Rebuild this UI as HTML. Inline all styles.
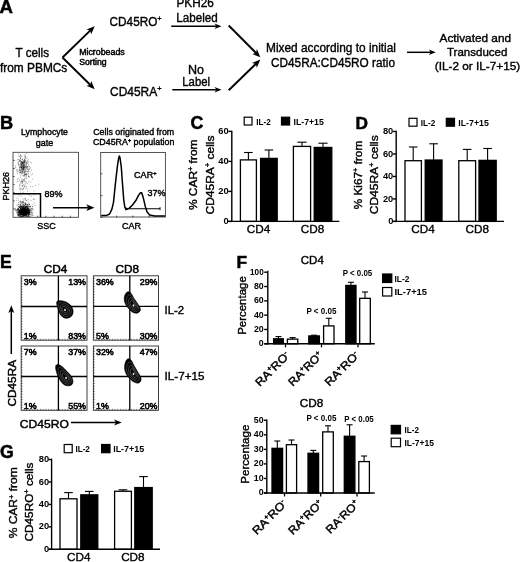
<!DOCTYPE html>
<html lang="en"><head><meta charset="utf-8"><title>Figure</title>
<style>
html,body{margin:0;padding:0;background:#fff;}
body{width:520px;height:562px;overflow:hidden;}
svg{display:block;filter:blur(0.45px);}
svg text{font-family:"Liberation Sans",sans-serif;fill:#000;}
</style></head><body>
<svg width="520" height="562" viewBox="0 0 520 562">
<rect width="520" height="562" fill="#fff"/>
<text x="-0.6" y="12.8" font-size="18.6" text-anchor="start" font-weight="bold" stroke="#000" stroke-width="0.5">A</text>
<text x="32.3" y="57" font-size="12.5" text-anchor="middle" textLength="33.5" lengthAdjust="spacingAndGlyphs" stroke="#000" stroke-width="0.38">T cells</text>
<text x="0" y="71.5" font-size="12.5" text-anchor="start" textLength="67.3" lengthAdjust="spacingAndGlyphs" stroke="#000" stroke-width="0.38">from PBMCs</text>
<line x1="62.5" y1="57.5" x2="90.4" y2="30.38" stroke="#000" stroke-width="1.9" />
<polygon points="94.70,26.20 91.19,34.35 90.25,30.52 86.45,29.48" fill="#000"/>
<line x1="62.5" y1="57.5" x2="90.42" y2="84.99" stroke="#000" stroke-width="1.9" />
<polygon points="94.70,89.20 86.47,85.87 90.28,84.85 91.24,81.02" fill="#000"/>
<text x="79.2" y="54.7" font-size="8.2" text-anchor="start" textLength="45.5" lengthAdjust="spacingAndGlyphs" stroke="#000" stroke-width="0.45">Microbeads</text>
<text x="79.2" y="65.1" font-size="8.2" text-anchor="start" textLength="27.5" lengthAdjust="spacingAndGlyphs" stroke="#000" stroke-width="0.45">Sorting</text>
<text x="109.6" y="25.8" font-size="12.5" text-anchor="start" textLength="52" lengthAdjust="spacingAndGlyphs" stroke="#000" stroke-width="0.38">CD45RO<tspan dy="-4.5" font-size="7.75">+</tspan></text>
<text x="110" y="95.9" font-size="12.5" text-anchor="start" textLength="51.5" lengthAdjust="spacingAndGlyphs" stroke="#000" stroke-width="0.38">CD45RA<tspan dy="-4.5" font-size="7.75">+</tspan></text>
<text x="176.5" y="7.3" font-size="12.5" text-anchor="start" textLength="37.2" lengthAdjust="spacingAndGlyphs" stroke="#000" stroke-width="0.38">PKH26</text>
<text x="176.3" y="22.3" font-size="12.5" text-anchor="start" textLength="41.5" lengthAdjust="spacingAndGlyphs" stroke="#000" stroke-width="0.38">Labeled</text>
<line x1="171.2" y1="26.2" x2="216.7" y2="26.2" stroke="#000" stroke-width="1.5" />
<polygon points="221.50,26.20 214.50,29.00 216.50,26.20 214.50,23.40" fill="#000"/>
<text x="196" y="73.5" font-size="12.5" text-anchor="middle" stroke="#000" stroke-width="0.38">No</text>
<text x="196.2" y="86.3" font-size="12.5" text-anchor="middle" textLength="27.8" lengthAdjust="spacingAndGlyphs" stroke="#000" stroke-width="0.38">Label</text>
<line x1="172.3" y1="89.7" x2="216.7" y2="89.7" stroke="#000" stroke-width="1.5" />
<polygon points="221.50,89.70 214.50,92.50 216.50,89.70 214.50,86.90" fill="#000"/>
<line x1="228.7" y1="25.5" x2="256.07" y2="53.04" stroke="#000" stroke-width="1.9" />
<polygon points="260.30,57.30 252.11,53.88 255.93,52.90 256.93,49.09" fill="#000"/>
<line x1="228.7" y1="90.3" x2="256.0" y2="63.78" stroke="#000" stroke-width="1.9" />
<polygon points="260.30,59.60 256.79,67.75 255.85,63.92 252.05,62.88" fill="#000"/>
<text x="266" y="51.9" font-size="12.5" text-anchor="start" textLength="130" lengthAdjust="spacingAndGlyphs" stroke="#000" stroke-width="0.38">Mixed according to initial</text>
<text x="271" y="66.5" font-size="12.5" text-anchor="start" textLength="124" lengthAdjust="spacingAndGlyphs" stroke="#000" stroke-width="0.38">CD45RA:CD45RO ratio</text>
<line x1="407" y1="52.3" x2="431.0" y2="52.3" stroke="#000" stroke-width="1.5" />
<polygon points="435.80,52.30 428.80,55.10 430.80,52.30 428.80,49.50" fill="#000"/>
<text x="475.3" y="41.7" font-size="11.8" text-anchor="middle" textLength="71.5" lengthAdjust="spacingAndGlyphs" stroke="#000" stroke-width="0.38">Activated and</text>
<text x="477.2" y="56" font-size="11.8" text-anchor="middle" textLength="60.5" lengthAdjust="spacingAndGlyphs" stroke="#000" stroke-width="0.38">Transduced</text>
<text x="477.5" y="69.8" font-size="11.8" text-anchor="middle" textLength="85.5" lengthAdjust="spacingAndGlyphs" stroke="#000" stroke-width="0.38">(IL-2 or IL-7+15)</text>
<text x="0" y="128.5" font-size="18.2" text-anchor="start" font-weight="bold" stroke="#000" stroke-width="0.5">B</text>
<text x="44.5" y="135" font-size="9" text-anchor="middle" textLength="47" lengthAdjust="spacingAndGlyphs" stroke="#000" stroke-width="0.4">Lymphocyte</text>
<text x="44.5" y="145.5" font-size="9" text-anchor="middle" textLength="17.5" lengthAdjust="spacingAndGlyphs" stroke="#000" stroke-width="0.4">gate</text>
<path d="M22.7 213.2h.9M22.8 210.9h.9M20.7 211.2h.9M26.8 213.0h.9M26.6 212.5h.9M24.7 212.3h.9M18.5 214.2h.9M25.0 213.2h.9M18.4 206.9h.9M20.8 210.5h.9M24.4 211.7h.9M25.1 210.0h.9M24.4 212.9h.9M21.5 216.6h.9M25.2 215.2h.9M21.6 209.7h.9M22.5 211.5h.9M25.4 212.5h.9M22.2 209.1h.9M21.9 215.2h.9M21.1 212.5h.9M24.8 207.6h.9M23.6 215.5h.9M17.5 210.9h.9M23.2 209.5h.9M25.0 211.6h.9M19.1 214.1h.9M25.5 214.4h.9M27.8 212.8h.9M23.9 208.2h.9M25.3 210.1h.9M22.1 208.3h.9M20.6 210.3h.9M27.4 206.1h.9M19.1 212.5h.9M27.8 213.4h.9M17.8 204.7h.9M24.6 209.7h.9M20.1 214.5h.9M26.8 212.2h.9M24.2 213.0h.9M28.3 213.5h.9M25.1 213.3h.9M18.8 215.4h.9M26.4 213.3h.9M17.6 210.0h.9M26.0 206.7h.9M22.9 214.7h.9M19.6 216.3h.9M25.2 211.4h.9M24.5 213.6h.9M23.9 215.0h.9M21.5 210.6h.9M26.6 211.9h.9M20.9 214.5h.9M27.9 210.6h.9M19.4 211.4h.9M23.1 211.0h.9M27.7 208.9h.9M27.3 208.2h.9M21.1 213.6h.9M26.9 214.2h.9M24.5 212.2h.9M24.0 213.4h.9M23.0 212.6h.9M25.2 211.8h.9M25.8 213.4h.9M29.5 212.7h.9M22.2 210.8h.9M23.5 214.4h.9M22.5 212.9h.9M29.0 204.6h.9M20.1 212.5h.9M24.7 212.5h.9M22.2 213.6h.9M24.3 210.3h.9M30.8 212.8h.9M21.8 211.5h.9M22.8 211.6h.9M15.3 210.4h.9M26.5 208.5h.9M23.3 214.5h.9M26.1 216.0h.9M18.4 210.8h.9M22.5 213.5h.9M26.8 204.3h.9M26.8 207.7h.9M25.5 207.6h.9M24.0 215.1h.9M23.1 212.3h.9M25.9 212.2h.9M23.2 216.1h.9M26.6 211.0h.9M31.7 208.6h.9M26.2 211.1h.9M23.9 213.8h.9M24.2 213.6h.9M18.9 207.6h.9M25.3 209.1h.9M20.4 207.7h.9M27.3 213.9h.9M27.9 209.2h.9M23.5 208.6h.9M25.8 216.3h.9M20.8 216.2h.9M26.5 211.3h.9M17.6 215.7h.9M23.2 210.1h.9M24.7 212.9h.9M28.0 208.9h.9M26.9 216.0h.9M27.9 211.3h.9M21.3 214.7h.9M23.8 212.1h.9M27.8 211.1h.9M16.6 210.7h.9M17.9 214.1h.9M24.5 210.1h.9M23.5 214.1h.9M23.7 215.5h.9M23.3 214.7h.9M28.0 216.3h.9M21.5 214.3h.9M17.9 208.8h.9M17.6 214.8h.9M19.8 211.8h.9M22.9 211.7h.9M21.7 212.5h.9M28.9 211.9h.9M25.1 214.6h.9M22.9 208.3h.9M21.8 214.8h.9M18.6 210.1h.9M26.5 214.0h.9M23.5 214.1h.9M24.0 208.5h.9M18.8 210.0h.9M26.3 210.2h.9M20.8 209.6h.9M18.9 211.5h.9M20.0 212.8h.9M16.4 212.7h.9M21.6 206.4h.9M25.7 211.0h.9M16.8 209.3h.9M24.4 210.5h.9M25.8 213.9h.9M25.5 212.7h.9M27.5 213.6h.9M24.9 206.0h.9M26.2 215.5h.9M22.6 210.5h.9M29.3 206.9h.9M20.7 213.7h.9M29.2 211.5h.9M25.2 214.3h.9M20.8 211.6h.9M24.4 214.1h.9M23.4 211.3h.9M20.5 210.8h.9M26.2 212.1h.9M20.9 209.4h.9M31.5 215.0h.9M25.4 204.5h.9M25.4 213.1h.9M28.6 213.0h.9M23.3 213.3h.9M17.7 214.7h.9M24.5 209.8h.9M19.3 209.9h.9M24.4 212.3h.9M22.3 209.1h.9M29.9 214.7h.9M19.9 208.0h.9M28.6 214.6h.9M29.0 214.1h.9M20.9 212.5h.9M17.0 209.7h.9M23.3 213.3h.9M21.3 211.5h.9M24.9 212.9h.9M25.4 212.4h.9M22.5 214.0h.9M23.6 209.5h.9M21.6 211.8h.9M23.2 212.2h.9M23.5 212.3h.9M23.1 208.3h.9M24.8 214.8h.9M24.8 211.3h.9M24.8 209.1h.9M17.8 212.0h.9M20.7 213.9h.9M20.2 204.4h.9M20.4 216.2h.9M22.4 208.0h.9M21.2 213.3h.9M25.0 212.3h.9M28.0 213.8h.9M23.4 213.5h.9M28.5 214.5h.9M26.6 208.8h.9M23.1 213.8h.9M22.6 214.8h.9M25.3 214.3h.9M27.2 211.2h.9M22.5 214.2h.9M26.4 211.8h.9M20.0 212.3h.9M24.6 215.0h.9M25.8 211.9h.9M26.1 213.3h.9M24.1 212.0h.9M22.8 213.7h.9M20.3 210.0h.9M23.5 207.7h.9M22.2 206.2h.9M21.5 213.4h.9M25.2 211.6h.9M22.8 207.8h.9M29.0 213.2h.9M26.8 209.3h.9M22.9 206.7h.9M25.8 214.4h.9M17.8 211.7h.9M25.4 206.9h.9M18.0 208.8h.9M21.6 207.9h.9M23.6 212.5h.9M25.4 213.8h.9M28.0 215.1h.9M19.6 210.4h.9M20.3 208.8h.9M23.3 211.8h.9M25.0 207.4h.9M19.8 211.7h.9M22.9 210.9h.9M23.3 209.7h.9M25.6 212.8h.9M23.2 209.9h.9M23.0 204.2h.9M20.6 211.9h.9M19.0 212.4h.9M23.9 207.9h.9M22.7 210.9h.9M24.9 213.5h.9M23.4 209.4h.9M23.1 211.6h.9M25.7 212.6h.9M21.3 208.0h.9M22.4 209.7h.9M20.2 211.5h.9M22.0 212.1h.9M25.1 210.6h.9M30.5 210.9h.9M26.8 212.1h.9M26.8 205.1h.9M21.2 212.5h.9M24.5 215.4h.9M25.8 214.5h.9M25.0 211.4h.9M25.0 208.8h.9M27.0 209.0h.9M22.8 211.9h.9M27.0 211.9h.9M21.1 212.5h.9M25.2 213.8h.9M21.2 216.7h.9M28.5 211.9h.9M24.3 210.6h.9M27.7 209.8h.9M25.5 210.5h.9M21.4 213.8h.9M27.5 211.8h.9M21.5 214.1h.9M23.4 212.7h.9M28.1 215.0h.9M23.5 214.0h.9M21.6 211.7h.9M27.6 208.4h.9M19.0 207.3h.9M27.0 210.5h.9M23.3 210.9h.9M23.1 208.8h.9M23.6 207.8h.9M23.3 212.7h.9M24.9 211.2h.9M20.8 212.2h.9M22.0 216.2h.9M25.8 211.5h.9M22.1 209.8h.9M20.7 210.8h.9M24.4 213.2h.9M21.4 211.8h.9M31.9 206.6h.9M21.9 212.3h.9M24.0 212.9h.9M22.8 212.8h.9M23.7 214.0h.9M17.8 209.3h.9M23.5 208.9h.9M20.4 213.6h.9M21.6 213.6h.9M25.7 212.7h.9M25.0 211.5h.9M19.3 211.7h.9M24.9 210.3h.9M23.2 213.9h.9M20.9 213.6h.9M29.1 210.2h.9M23.9 211.4h.9M28.1 212.7h.9M26.2 209.9h.9M23.5 211.8h.9M18.2 215.8h.9M26.2 206.9h.9M25.7 211.4h.9M24.8 212.8h.9M19.0 211.2h.9M28.0 210.2h.9M20.4 208.0h.9M19.8 212.7h.9M28.6 213.0h.9M21.9 209.9h.9M25.1 213.3h.9M20.5 208.5h.9M24.4 212.5h.9M19.6 211.2h.9M21.9 213.1h.9M23.1 211.6h.9M22.4 214.7h.9M27.7 210.8h.9M26.0 209.7h.9M23.7 213.9h.9M28.0 210.7h.9M23.3 212.3h.9M19.0 211.8h.9M21.5 212.8h.9M20.1 206.3h.9M23.6 212.5h.9M21.9 214.3h.9M22.7 210.1h.9M24.9 207.4h.9M21.5 211.7h.9M26.0 211.3h.9M24.4 210.0h.9M24.4 216.5h.9M21.6 211.8h.9M24.0 214.7h.9M19.8 205.9h.9M25.3 214.0h.9M24.1 212.5h.9M26.3 212.8h.9M28.5 208.3h.9M22.4 202.2h.9M25.9 210.8h.9M23.5 211.1h.9M22.0 209.5h.9M21.6 213.6h.9M23.6 212.0h.9M23.0 214.4h.9M25.0 211.4h.9M25.5 211.4h.9M20.0 215.9h.9M24.9 209.1h.9M26.7 212.8h.9M18.8 216.3h.9M24.5 214.3h.9M24.1 211.4h.9M18.9 214.5h.9M23.6 211.0h.9M24.6 212.0h.9M25.5 210.8h.9M23.4 205.8h.9M22.2 213.7h.9M27.5 210.8h.9M23.1 216.2h.9M22.5 213.9h.9M28.5 211.9h.9M27.2 209.8h.9M24.1 211.6h.9M23.8 215.0h.9M30.7 209.9h.9M21.8 213.2h.9M20.3 213.2h.9M25.2 211.0h.9M25.1 207.5h.9M25.8 207.5h.9M21.4 210.2h.9M22.3 214.2h.9M23.7 210.7h.9M25.1 216.2h.9M23.5 212.8h.9M27.2 212.5h.9M30.1 206.2h.9M23.4 213.0h.9M26.4 213.7h.9M22.7 208.8h.9M23.8 214.7h.9M20.2 208.9h.9M23.4 206.4h.9M22.7 210.6h.9M24.9 209.8h.9M20.9 210.7h.9M23.4 209.9h.9M23.5 213.9h.9M27.1 216.6h.9M21.1 210.6h.9M21.3 211.7h.9M25.1 208.0h.9M24.9 211.7h.9M18.0 212.6h.9M27.1 206.6h.9M25.9 212.4h.9M24.9 213.0h.9M27.4 211.2h.9M26.1 210.7h.9M25.7 209.5h.9M23.2 216.6h.9M24.8 211.4h.9" stroke="#000" stroke-width="0.9" fill="none" opacity="0.85"/>
<path d="M19.2 206.3h.9M24.8 213.3h.9M25.8 211.6h.9M23.8 214.9h.9M22.4 207.3h.9M27.7 209.8h.9M22.8 207.2h.9M22.9 212.0h.9M25.5 204.7h.9M25.8 210.2h.9M19.8 212.6h.9M22.8 208.2h.9M27.3 214.8h.9M21.1 211.3h.9M21.9 214.3h.9M21.3 212.7h.9M33.3 199.3h.9M22.2 211.5h.9M23.6 206.8h.9M33.0 209.8h.9M17.1 212.9h.9M16.8 214.1h.9M21.6 210.1h.9M29.3 210.0h.9M18.2 202.7h.9M29.0 212.5h.9M20.6 212.9h.9M26.1 212.1h.9M14.5 208.3h.9M27.8 212.4h.9M27.7 199.7h.9M24.7 211.5h.9M34.7 205.7h.9M22.6 209.6h.9M27.7 207.7h.9M28.8 206.3h.9M25.1 207.4h.9M24.7 206.7h.9M17.3 213.9h.9M25.3 207.3h.9M24.8 213.5h.9M19.9 209.1h.9M26.3 211.6h.9M22.6 201.1h.9M29.2 210.8h.9M24.1 208.4h.9M25.1 207.8h.9M19.7 206.5h.9M21.5 207.1h.9M19.1 212.0h.9M18.5 212.1h.9M19.7 210.9h.9M29.8 210.3h.9M20.9 209.7h.9M24.6 202.6h.9M21.4 210.2h.9M22.0 209.8h.9M27.1 212.6h.9M27.8 211.9h.9M22.8 209.4h.9M22.9 208.2h.9M23.2 202.6h.9M22.6 209.4h.9M19.9 209.4h.9M26.2 208.8h.9M32.7 199.1h.9M23.1 202.2h.9M26.2 208.3h.9M26.3 200.5h.9M27.6 211.0h.9M24.1 207.1h.9M26.7 207.6h.9M24.9 207.5h.9M14.6 209.4h.9M24.8 212.5h.9M20.3 209.4h.9M26.6 210.1h.9M20.2 201.8h.9M27.6 215.6h.9M27.9 212.8h.9M21.4 206.6h.9M27.7 205.9h.9M16.4 205.5h.9M21.1 206.6h.9M25.0 206.5h.9M29.5 209.2h.9M19.4 214.7h.9M21.6 210.4h.9M23.9 208.2h.9M25.4 206.7h.9M16.3 200.7h.9M18.7 206.5h.9M23.9 209.7h.9M26.3 210.0h.9M20.7 206.7h.9M15.1 208.8h.9M26.0 211.6h.9M23.5 208.8h.9M27.9 209.6h.9M27.1 211.8h.9M24.9 214.7h.9M21.6 208.1h.9M20.6 206.3h.9M30.5 216.5h.9M24.1 211.8h.9M28.9 212.7h.9M29.1 204.4h.9M21.3 211.3h.9M30.0 209.9h.9M20.4 208.1h.9M21.2 206.1h.9M30.3 207.0h.9M29.0 210.8h.9M21.4 211.1h.9M30.8 212.0h.9M29.3 209.9h.9M26.2 208.7h.9M25.8 214.7h.9M18.0 209.2h.9M25.0 207.2h.9M22.7 212.6h.9M32.4 212.0h.9M25.4 203.3h.9M32.1 209.8h.9M23.9 205.0h.9M23.8 205.1h.9M24.3 211.4h.9M24.1 210.6h.9M20.4 215.2h.9M21.3 202.2h.9M23.2 206.4h.9M19.8 208.1h.9M25.2 204.8h.9M23.4 215.2h.9M26.9 208.9h.9M24.5 209.0h.9M23.8 212.4h.9M23.6 199.9h.9M23.9 205.9h.9M26.7 207.1h.9M19.6 205.0h.9M18.1 199.9h.9M16.1 211.0h.9M21.3 202.0h.9M17.8 212.0h.9M20.7 208.0h.9M25.4 214.9h.9M32.2 213.6h.9M24.6 210.2h.9M31.6 215.2h.9M22.7 211.3h.9M25.2 209.7h.9M21.9 204.2h.9M21.8 203.3h.9M29.1 211.6h.9M18.9 215.1h.9M27.7 201.9h.9M31.7 212.7h.9M32.7 204.6h.9M26.2 211.2h.9M24.8 210.2h.9M28.4 203.5h.9M18.8 203.9h.9M21.7 207.1h.9M25.5 210.6h.9M24.1 206.8h.9M22.1 213.3h.9M27.2 209.9h.9M22.6 215.7h.9M21.5 212.1h.9M28.8 208.4h.9M27.5 205.0h.9M28.3 210.3h.9M17.3 212.2h.9M20.3 214.6h.9M21.1 208.8h.9M25.2 208.2h.9M25.1 207.3h.9M26.8 209.5h.9M24.9 198.5h.9M28.9 209.6h.9M16.5 209.9h.9M26.0 213.8h.9M19.5 215.7h.9M23.4 212.2h.9M22.5 205.0h.9M28.6 213.1h.9M30.5 212.9h.9M21.6 202.9h.9M21.3 206.8h.9M20.6 211.8h.9M25.4 208.4h.9M24.7 208.9h.9M24.9 212.5h.9M28.0 206.8h.9M17.7 215.2h.9M24.5 213.9h.9M17.1 208.2h.9M24.1 203.7h.9M21.8 212.4h.9M28.5 215.9h.9M20.4 203.9h.9M26.2 213.3h.9M24.8 204.3h.9M27.3 212.7h.9M26.3 207.6h.9M25.3 212.7h.9M21.7 202.1h.9M25.4 211.4h.9M24.1 213.1h.9M21.5 209.2h.9M22.7 211.8h.9M30.7 208.5h.9M32.6 215.6h.9M27.3 211.8h.9M31.4 208.8h.9M23.5 205.2h.9M26.0 214.9h.9M26.2 211.2h.9M23.2 210.2h.9M18.0 213.7h.9M22.3 205.1h.9M20.8 206.2h.9M27.6 213.7h.9M18.3 213.2h.9M27.7 207.2h.9M17.8 206.5h.9M21.3 210.9h.9M22.5 201.4h.9M25.0 203.4h.9M27.8 204.7h.9M21.1 206.1h.9M21.7 214.7h.9M27.6 211.9h.9M25.3 203.3h.9M21.8 207.3h.9M19.9 211.5h.9M20.9 206.7h.9M19.6 201.3h.9M26.5 214.8h.9M23.3 161.1h.9M15.2 167.5h.9M26.2 168.1h.9M25.4 174.6h.9M26.0 164.1h.9M25.7 170.8h.9M18.5 164.3h.9M18.8 165.9h.9M24.4 160.6h.9M17.0 173.6h.9M23.9 174.6h.9M19.1 172.3h.9M28.6 177.5h.9M22.2 168.0h.9M22.4 172.0h.9M25.7 167.0h.9M19.0 170.6h.9M21.5 170.0h.9M23.5 175.4h.9M26.0 164.0h.9M23.8 176.2h.9M21.3 168.9h.9M26.1 173.4h.9M24.3 159.2h.9M19.3 167.9h.9M23.9 180.5h.9M20.4 172.8h.9M25.0 157.3h.9M20.5 167.4h.9M21.4 165.7h.9M24.1 162.0h.9M24.1 163.0h.9M21.3 169.5h.9M21.2 168.1h.9M27.3 166.6h.9M22.4 170.5h.9M21.8 172.5h.9M19.2 169.9h.9M21.4 162.1h.9M27.8 161.8h.9M27.7 170.1h.9M26.9 161.1h.9M26.2 174.5h.9M22.5 165.8h.9M29.7 167.5h.9M21.6 163.0h.9M24.0 168.3h.9M23.3 176.0h.9M21.9 169.1h.9M26.9 161.0h.9M25.7 176.6h.9M19.0 160.5h.9M19.9 156.3h.9M24.1 156.3h.9M24.2 174.5h.9M18.3 164.8h.9M17.4 170.8h.9M20.7 165.0h.9M23.0 169.5h.9M21.8 166.6h.9M21.3 167.1h.9M19.5 166.8h.9M17.4 163.8h.9M28.2 166.9h.9M19.3 167.9h.9M20.1 157.4h.9M20.7 170.6h.9M23.9 166.0h.9M20.2 160.6h.9M26.6 167.8h.9M20.1 154.9h.9M19.0 180.1h.9M19.6 166.1h.9M23.4 165.6h.9M22.0 158.9h.9M19.9 175.8h.9M20.7 171.2h.9M18.1 165.0h.9M23.5 172.2h.9M19.7 169.8h.9M23.9 162.4h.9M24.1 161.6h.9M20.6 166.4h.9M15.2 165.9h.9M20.0 158.5h.9M21.6 170.7h.9M21.7 173.5h.9M19.6 159.3h.9M27.1 168.7h.9M25.4 162.0h.9M25.1 167.9h.9M24.6 166.6h.9M26.2 162.9h.9M20.1 158.4h.9M26.0 162.4h.9M19.9 161.3h.9M21.6 159.5h.9M22.0 163.1h.9M21.3 161.2h.9M22.9 164.0h.9M23.1 167.9h.9M23.8 154.5h.9M21.3 162.1h.9M25.0 157.8h.9M20.8 164.9h.9M21.9 172.0h.9M21.6 171.8h.9M18.7 156.5h.9M26.2 168.9h.9M24.2 167.2h.9M24.2 159.8h.9M25.5 163.6h.9M25.6 167.0h.9M17.3 159.4h.9M26.0 165.7h.9M21.7 167.8h.9M21.6 163.5h.9M23.1 167.3h.9M27.0 166.8h.9M28.1 176.4h.9M27.6 172.3h.9M23.2 167.3h.9M22.4 162.5h.9M22.6 163.0h.9M27.4 169.4h.9M21.5 156.0h.9M22.7 164.2h.9M19.8 160.2h.9M16.5 169.6h.9M22.6 180.7h.9M22.7 165.7h.9M26.8 167.2h.9M23.3 164.5h.9M21.1 174.7h.9M25.6 175.9h.9M21.8 166.7h.9M20.3 171.8h.9M18.9 169.6h.9M25.9 174.3h.9M20.2 172.5h.9M20.8 162.3h.9M19.1 172.9h.9M27.4 163.2h.9M20.7 164.6h.9M29.8 172.0h.9M21.3 156.6h.9M20.9 173.0h.9M28.0 165.0h.9M20.9 163.7h.9M17.5 171.5h.9M19.8 172.3h.9M18.0 159.5h.9M23.6 162.3h.9M25.0 166.5h.9M19.5 169.9h.9M25.2 156.0h.9M27.9 169.2h.9M24.9 156.3h.9M20.8 164.6h.9M25.8 158.5h.9M20.3 155.3h.9M22.1 168.4h.9M18.1 163.2h.9M24.2 175.2h.9M24.7 164.8h.9M19.5 161.3h.9M20.9 167.3h.9M22.7 175.7h.9M23.6 160.6h.9M27.1 171.7h.9M23.1 162.5h.9M17.6 160.9h.9M25.4 162.1h.9M19.1 167.6h.9M23.5 169.8h.9M24.6 174.2h.9M20.4 171.9h.9M20.0 170.3h.9M23.3 167.8h.9M25.5 166.4h.9M25.9 171.3h.9M23.2 163.4h.9M20.7 163.6h.9M22.2 166.4h.9M31.1 170.0h.9M25.0 161.8h.9M20.8 164.7h.9M23.3 160.8h.9M27.3 163.4h.9M25.8 153.7h.9M22.8 168.0h.9M23.3 169.8h.9M23.6 167.4h.9M17.5 162.6h.9M16.2 170.0h.9M23.7 165.4h.9M20.5 163.3h.9M28.0 176.0h.9M22.6 173.6h.9M18.4 155.9h.9M21.4 161.7h.9M21.2 167.5h.9M31.3 162.9h.9M22.9 168.0h.9M22.7 171.6h.9M27.8 159.7h.9M23.3 165.0h.9M23.8 158.1h.9M17.9 153.8h.9M24.3 167.6h.9M21.8 162.3h.9M18.8 161.5h.9M24.8 169.5h.9M22.7 169.3h.9M21.1 166.9h.9M22.9 169.5h.9M22.6 165.7h.9M22.4 163.0h.9M29.1 169.3h.9M24.0 179.1h.9M26.7 157.9h.9M24.7 171.1h.9M28.1 173.7h.9M25.0 160.0h.9M20.4 168.0h.9M24.2 160.9h.9M21.7 164.3h.9M23.0 168.3h.9M22.0 159.7h.9M26.3 175.3h.9M22.5 172.1h.9M24.0 170.1h.9M24.1 162.3h.9M24.4 172.1h.9M20.3 177.3h.9M28.7 176.5h.9M28.4 170.6h.9M21.9 163.2h.9M20.5 167.1h.9M22.7 170.2h.9M17.1 179.2h.9M29.2 166.3h.9M24.7 169.1h.9M23.6 165.4h.9M22.5 162.0h.9M23.3 166.4h.9M23.7 161.8h.9M22.9 166.8h.9M24.5 160.7h.9M24.0 171.9h.9M24.5 164.5h.9M21.4 165.2h.9M24.8 175.0h.9M22.4 163.0h.9M23.9 167.6h.9M20.3 162.4h.9M22.5 170.2h.9M19.5 160.9h.9M24.2 159.8h.9M23.1 168.4h.9M22.2 178.9h.9M22.3 183.7h.9M23.4 180.1h.9M25.3 174.3h.9M22.0 186.1h.9M25.0 181.7h.9M23.9 182.0h.9M24.4 198.2h.9M21.5 189.1h.9M20.1 192.8h.9M25.6 186.2h.9M19.5 188.8h.9M25.5 193.6h.9M24.6 173.2h.9M20.7 196.0h.9M19.3 193.9h.9M27.4 191.3h.9M25.4 183.7h.9M19.3 185.3h.9M22.0 185.7h.9M24.3 185.0h.9M23.0 189.0h.9M22.5 198.9h.9M23.7 186.6h.9M22.0 181.6h.9M26.0 187.1h.9M19.7 182.1h.9M22.1 182.9h.9M25.3 177.9h.9M23.8 187.0h.9M19.4 186.3h.9M22.3 189.5h.9M21.3 188.1h.9M18.2 178.4h.9M24.5 193.3h.9M22.5 181.8h.9M25.3 171.4h.9M20.4 190.7h.9M24.2 178.8h.9M17.6 196.2h.9M22.9 179.7h.9M22.6 192.3h.9M15.8 193.8h.9M24.4 171.4h.9M24.5 173.5h.9M25.5 188.8h.9M28.4 181.7h.9M22.5 193.3h.9M20.8 181.1h.9M21.5 185.5h.9M19.7 189.4h.9M23.9 186.5h.9M26.9 183.7h.9M25.9 182.2h.9M24.5 172.5h.9M23.0 184.8h.9M21.2 181.7h.9M21.6 181.0h.9M16.8 181.8h.9M21.1 182.3h.9M19.6 188.1h.9M32.5 186.5h.9M23.6 209.0h.9M33.8 202.9h.9M35.1 185.4h.9M26.1 205.6h.9M23.1 188.3h.9M29.6 195.2h.9M25.1 203.8h.9M25.8 200.2h.9M34.5 199.2h.9M32.1 173.8h.9M17.8 181.3h.9M30.3 211.0h.9M18.4 194.3h.9M21.0 179.7h.9M25.1 199.7h.9M28.5 206.5h.9M20.1 202.4h.9M33.5 191.0h.9M30.3 182.1h.9M19.4 184.3h.9M23.6 213.1h.9M28.4 194.4h.9M32.2 179.1h.9M33.4 195.3h.9M16.4 198.4h.9M30.9 196.3h.9M38.1 184.2h.9M30.6 200.5h.9M20.7 206.8h.9M16.8 171.8h.9M30.7 174.8h.9M26.2 167.0h.9M27.5 174.1h.9M29.4 168.5h.9M30.1 186.3h.9M27.4 189.1h.9M27.9 171.5h.9M20.4 183.6h.9M30.0 162.2h.9M21.7 181.5h.9M19.6 194.6h.9M26.0 178.5h.9M20.1 201.3h.9" stroke="#000" stroke-width="0.9" fill="none" opacity="0.42"/>
<ellipse cx="23.3" cy="212" rx="4.6" ry="3.6" fill="#000" opacity="0.8"/>
<ellipse cx="22.8" cy="165.5" rx="2.6" ry="4.5" fill="#000" opacity="0.22"/>
<rect x="13" y="152.3" width="65.5" height="65.0" fill="none" stroke="#444" stroke-width="0.9"/>
<line x1="13" y1="160.4" x2="14.8" y2="160.4" stroke="#000" stroke-width="0.6" />
<line x1="21.2" y1="217.3" x2="21.2" y2="215.7" stroke="#000" stroke-width="0.6" />
<line x1="13" y1="168.5" x2="14.8" y2="168.5" stroke="#000" stroke-width="0.6" />
<line x1="29.4" y1="217.3" x2="29.4" y2="215.7" stroke="#000" stroke-width="0.6" />
<line x1="13" y1="176.60000000000002" x2="14.8" y2="176.60000000000002" stroke="#000" stroke-width="0.6" />
<line x1="37.599999999999994" y1="217.3" x2="37.599999999999994" y2="215.7" stroke="#000" stroke-width="0.6" />
<line x1="13" y1="184.70000000000002" x2="14.8" y2="184.70000000000002" stroke="#000" stroke-width="0.6" />
<line x1="45.8" y1="217.3" x2="45.8" y2="215.7" stroke="#000" stroke-width="0.6" />
<line x1="13" y1="192.8" x2="14.8" y2="192.8" stroke="#000" stroke-width="0.6" />
<line x1="54.0" y1="217.3" x2="54.0" y2="215.7" stroke="#000" stroke-width="0.6" />
<line x1="13" y1="200.9" x2="14.8" y2="200.9" stroke="#000" stroke-width="0.6" />
<line x1="62.199999999999996" y1="217.3" x2="62.199999999999996" y2="215.7" stroke="#000" stroke-width="0.6" />
<line x1="13" y1="209.0" x2="14.8" y2="209.0" stroke="#000" stroke-width="0.6" />
<line x1="70.39999999999999" y1="217.3" x2="70.39999999999999" y2="215.7" stroke="#000" stroke-width="0.6" />
<path d="M13 193.8H40.5V217.3" fill="none" stroke="#000" stroke-width="1.5"/>
<text x="44.5" y="197" font-size="9" text-anchor="start" textLength="18" lengthAdjust="spacingAndGlyphs" stroke="#000" stroke-width="0.4">89%</text>
<text x="46.6" y="229.3" font-size="9.2" text-anchor="middle" textLength="18.5" lengthAdjust="spacingAndGlyphs" stroke="#000" stroke-width="0.4">SSC</text>
<text x="8.8" y="186.2" font-size="9" text-anchor="middle" textLength="28.5" lengthAdjust="spacingAndGlyphs" transform="rotate(-90 8.8 186.2)" stroke="#000" stroke-width="0.38">PKH26</text>
<line x1="53" y1="207.7" x2="88.5" y2="207.7" stroke="#000" stroke-width="1.4" />
<polygon points="94.50,207.70 86.30,211.10 88.30,207.70 86.30,204.30" fill="#000"/>
<text x="133.7" y="135" font-size="9" text-anchor="middle" textLength="81" lengthAdjust="spacingAndGlyphs" stroke="#000" stroke-width="0.4">Cells originated from</text>
<text x="133.7" y="145" font-size="9" text-anchor="middle" textLength="81.5" lengthAdjust="spacingAndGlyphs" stroke="#000" stroke-width="0.4">CD45RA<tspan dy="-3.24" font-size="5.58">+</tspan><tspan dy="3.24"> </tspan>population</text>
<rect x="100.7" y="152.5" width="64.7" height="64.5" fill="none" stroke="#444" stroke-width="0.9"/>
<line x1="100.5" y1="173.8" x2="102.5" y2="173.8" stroke="#000" stroke-width="0.6" />
<line x1="116.7" y1="217.5" x2="116.7" y2="215.5" stroke="#000" stroke-width="0.6" />
<line x1="100.5" y1="195.6" x2="102.5" y2="195.6" stroke="#000" stroke-width="0.6" />
<line x1="132.9" y1="217.5" x2="132.9" y2="215.5" stroke="#000" stroke-width="0.6" />
<line x1="100.5" y1="217.4" x2="102.5" y2="217.4" stroke="#000" stroke-width="0.6" />
<line x1="149.1" y1="217.5" x2="149.1" y2="215.5" stroke="#000" stroke-width="0.6" />
<path d="M101.2 215.4 L106.6 215.4 L109.6 214 L111.9 209.1 L113.5 202.3 L115.4 183.7 L117.4 166.1 L118.6 158.3 L119.4 155.9 L120.1 158.3 L121.3 167.1 L122.5 183.7 L123.7 199.4 L124.8 207.2 L126 209.5 L129.1 208.4 L132.7 204.8 L136 200.3 L138.5 195.4 L140.5 192.7 L141.7 192.7 L143.2 197.4 L145.2 206.2 L147.1 212.1 L149.7 215 L154.6 216 L165.2 216" fill="none" stroke="#000" stroke-width="1.5" stroke-linejoin="round"/>
<line x1="126" y1="208.7" x2="160" y2="208.7" stroke="#000" stroke-width="1.1" />
<line x1="126" y1="207.2" x2="126" y2="210.2" stroke="#000" stroke-width="1" />
<line x1="160" y1="207.2" x2="160" y2="210.2" stroke="#000" stroke-width="1" />
<text x="134" y="178.3" font-size="9" text-anchor="start" textLength="22.5" lengthAdjust="spacingAndGlyphs" stroke="#000" stroke-width="0.4">CAR<tspan dy="-3.24" font-size="5.58">+</tspan></text>
<text x="147.5" y="196.3" font-size="9" text-anchor="start" textLength="18" lengthAdjust="spacingAndGlyphs" stroke="#000" stroke-width="0.4">37%</text>
<text x="131.6" y="228.5" font-size="9.2" text-anchor="middle" textLength="19" lengthAdjust="spacingAndGlyphs" stroke="#000" stroke-width="0.4">CAR</text>
<text x="190.4" y="129" font-size="17.8" text-anchor="start" font-weight="bold" stroke="#000" stroke-width="0.5">C</text>
<rect x="244.2" y="117.2" width="7.8" height="7.8" fill="#fff" stroke="#000" stroke-width="1.2"/>
<text x="256.2" y="124.6" font-size="9.2" text-anchor="start" font-weight="bold" textLength="14.5" lengthAdjust="spacingAndGlyphs" >IL-2</text>
<rect x="281.5" y="117.2" width="8.1" height="7.8" fill="#000" stroke="#000" stroke-width="1.2"/>
<text x="293.5" y="124.6" font-size="9.2" text-anchor="start" font-weight="bold" textLength="30.3" lengthAdjust="spacingAndGlyphs" >IL-7+15</text>
<line x1="248.39999999999998" y1="152.5" x2="248.39999999999998" y2="159.9" stroke="#000" stroke-width="1.1" />
<line x1="244.09999999999997" y1="152.5" x2="252.7" y2="152.5" stroke="#000" stroke-width="1.1" />
<rect x="240.4" y="159.9" width="16.0" height="61.5" fill="#fff" stroke="#000" stroke-width="1.3"/>
<line x1="268.9" y1="150" x2="268.9" y2="158.4" stroke="#000" stroke-width="1.1" />
<line x1="264.59999999999997" y1="150" x2="273.2" y2="150" stroke="#000" stroke-width="1.1" />
<rect x="260.6" y="158.4" width="16.6" height="63.0" fill="#000" stroke="#000" stroke-width="1.3"/>
<line x1="302.0" y1="142.2" x2="302.0" y2="146.4" stroke="#000" stroke-width="1.1" />
<line x1="297.4" y1="142.2" x2="306.6" y2="142.2" stroke="#000" stroke-width="1.1" />
<rect x="293.4" y="146.4" width="17.2" height="75.0" fill="#fff" stroke="#000" stroke-width="1.3"/>
<line x1="323.0" y1="143.2" x2="323.0" y2="147.45000000000002" stroke="#000" stroke-width="1.1" />
<line x1="318.4" y1="143.2" x2="327.6" y2="143.2" stroke="#000" stroke-width="1.1" />
<rect x="314.2" y="147.45000000000002" width="17.6" height="73.95" fill="#000" stroke="#000" stroke-width="1.3"/>
<line x1="231.8" y1="130.8" x2="231.8" y2="222.1" stroke="#000" stroke-width="1.4" />
<line x1="228.3" y1="221.4" x2="339.3" y2="221.4" stroke="#000" stroke-width="1.4" />
<line x1="228.3" y1="221.4" x2="231.8" y2="221.4" stroke="#000" stroke-width="1.4" />
<text x="228.7" y="224.0" font-size="9.3" text-anchor="end" font-weight="bold" >0</text>
<line x1="228.3" y1="191.4" x2="231.8" y2="191.4" stroke="#000" stroke-width="1.4" />
<text x="228.7" y="194.0" font-size="9.3" text-anchor="end" font-weight="bold" >20</text>
<line x1="228.3" y1="161.4" x2="231.8" y2="161.4" stroke="#000" stroke-width="1.4" />
<text x="228.7" y="164.0" font-size="9.3" text-anchor="end" font-weight="bold" >40</text>
<line x1="228.3" y1="131.4" x2="231.8" y2="131.4" stroke="#000" stroke-width="1.4" />
<text x="228.7" y="134.0" font-size="9.3" text-anchor="end" font-weight="bold" >60</text>
<text x="258.6" y="232.8" font-size="11.3" text-anchor="middle" textLength="23.5" lengthAdjust="spacingAndGlyphs" stroke="#000" stroke-width="0.35">CD4</text>
<text x="312.6" y="232.8" font-size="11.3" text-anchor="middle" textLength="23.5" lengthAdjust="spacingAndGlyphs" stroke="#000" stroke-width="0.35">CD8</text>
<text x="197.3" y="174.8" font-size="10.6" text-anchor="middle" textLength="70.5" lengthAdjust="spacingAndGlyphs" transform="rotate(-90 197.3 174.8)" stroke="#000" stroke-width="0.38">% CAR<tspan dy="-3.82" font-size="6.57">+</tspan><tspan dy="3.82"> </tspan>from</text>
<text x="213.8" y="175" font-size="10.6" text-anchor="middle" textLength="79" lengthAdjust="spacingAndGlyphs" transform="rotate(-90 213.8 175)" stroke="#000" stroke-width="0.38">CD45RA<tspan dy="-3.82" font-size="6.57">+</tspan><tspan dy="3.82"> </tspan>cells</text>
<text x="355.6" y="128.7" font-size="17.3" text-anchor="start" font-weight="bold" stroke="#000" stroke-width="0.5">D</text>
<rect x="409" y="118.3" width="8" height="7.9" fill="#fff" stroke="#000" stroke-width="1.2"/>
<text x="420.8" y="125.8" font-size="9.2" text-anchor="start" font-weight="bold" textLength="14.6" lengthAdjust="spacingAndGlyphs" >IL-2</text>
<rect x="446.3" y="118.3" width="8.2" height="7.9" fill="#000" stroke="#000" stroke-width="1.2"/>
<text x="458.3" y="125.8" font-size="9.2" text-anchor="start" font-weight="bold" textLength="30.5" lengthAdjust="spacingAndGlyphs" >IL-7+15</text>
<line x1="413.2" y1="147" x2="413.2" y2="160.704" stroke="#000" stroke-width="1.1" />
<line x1="408.9" y1="147" x2="417.5" y2="147" stroke="#000" stroke-width="1.1" />
<rect x="405" y="160.704" width="16.4" height="60.7" fill="#fff" stroke="#000" stroke-width="1.3"/>
<line x1="433.6" y1="143.8" x2="433.6" y2="160.0296" stroke="#000" stroke-width="1.1" />
<line x1="429.3" y1="143.8" x2="437.90000000000003" y2="143.8" stroke="#000" stroke-width="1.1" />
<rect x="425.2" y="160.0296" width="16.8" height="61.37" fill="#000" stroke="#000" stroke-width="1.3"/>
<line x1="467.20000000000005" y1="149.4" x2="467.20000000000005" y2="160.704" stroke="#000" stroke-width="1.1" />
<line x1="462.90000000000003" y1="149.4" x2="471.50000000000006" y2="149.4" stroke="#000" stroke-width="1.1" />
<rect x="458.8" y="160.704" width="16.8" height="60.7" fill="#fff" stroke="#000" stroke-width="1.3"/>
<line x1="487.6" y1="148.5" x2="487.6" y2="160.3668" stroke="#000" stroke-width="1.1" />
<line x1="483.3" y1="148.5" x2="491.90000000000003" y2="148.5" stroke="#000" stroke-width="1.1" />
<rect x="479" y="160.3668" width="17.2" height="61.03" fill="#000" stroke="#000" stroke-width="1.3"/>
<line x1="396.2" y1="130.8" x2="396.2" y2="222.1" stroke="#000" stroke-width="1.4" />
<line x1="392.5" y1="221.4" x2="504" y2="221.4" stroke="#000" stroke-width="1.4" />
<line x1="392.9" y1="221.4" x2="396.2" y2="221.4" stroke="#000" stroke-width="1.4" />
<text x="393.3" y="224.0" font-size="9.3" text-anchor="end" font-weight="bold" >0</text>
<line x1="392.9" y1="198.92000000000002" x2="396.2" y2="198.92000000000002" stroke="#000" stroke-width="1.4" />
<text x="393.3" y="201.52" font-size="9.3" text-anchor="end" font-weight="bold" >20</text>
<line x1="392.9" y1="176.44" x2="396.2" y2="176.44" stroke="#000" stroke-width="1.4" />
<text x="393.3" y="179.04" font-size="9.3" text-anchor="end" font-weight="bold" >40</text>
<line x1="392.9" y1="153.95999999999998" x2="396.2" y2="153.95999999999998" stroke="#000" stroke-width="1.4" />
<text x="393.3" y="156.55999999999997" font-size="9.3" text-anchor="end" font-weight="bold" >60</text>
<line x1="392.9" y1="131.48" x2="396.2" y2="131.48" stroke="#000" stroke-width="1.4" />
<text x="393.3" y="134.07999999999998" font-size="9.3" text-anchor="end" font-weight="bold" >80</text>
<text x="423" y="233.2" font-size="11.3" text-anchor="middle" textLength="23.5" lengthAdjust="spacingAndGlyphs" stroke="#000" stroke-width="0.35">CD4</text>
<text x="477.2" y="233.2" font-size="11.3" text-anchor="middle" textLength="23.5" lengthAdjust="spacingAndGlyphs" stroke="#000" stroke-width="0.35">CD8</text>
<text x="362.1" y="175" font-size="10.6" text-anchor="middle" textLength="68.5" lengthAdjust="spacingAndGlyphs" transform="rotate(-90 362.1 175)" stroke="#000" stroke-width="0.38">% Ki67<tspan dy="-3.82" font-size="6.57">+</tspan><tspan dy="3.82"> </tspan>from</text>
<text x="378" y="174.7" font-size="10.6" text-anchor="middle" textLength="79" lengthAdjust="spacingAndGlyphs" transform="rotate(-90 378 174.7)" stroke="#000" stroke-width="0.38">CD45RA<tspan dy="-3.82" font-size="6.57">+</tspan><tspan dy="3.82"> </tspan>cells</text>
<text x="0" y="267.8" font-size="17.5" text-anchor="start" font-weight="bold" stroke="#000" stroke-width="0.5">E</text>
<text x="55.5" y="272.5" font-size="10.8" text-anchor="middle" textLength="23.5" lengthAdjust="spacingAndGlyphs" stroke="#000" stroke-width="0.5">CD4</text>
<text x="127.3" y="272.5" font-size="10.8" text-anchor="middle" textLength="23.5" lengthAdjust="spacingAndGlyphs" stroke="#000" stroke-width="0.5">CD8</text>
<rect x="21.2" y="275.8" width="65.8" height="64.4" fill="none" stroke="#333" stroke-width="0.95"/>
<line x1="23.941666666666666" y1="340.2" x2="23.941666666666666" y2="338.8" stroke="#000" stroke-width="0.5" />
<line x1="21.2" y1="278.48333333333335" x2="22.599999999999998" y2="278.48333333333335" stroke="#000" stroke-width="0.5" />
<line x1="26.683333333333334" y1="340.2" x2="26.683333333333334" y2="338.8" stroke="#000" stroke-width="0.5" />
<line x1="21.2" y1="281.1666666666667" x2="22.599999999999998" y2="281.1666666666667" stroke="#000" stroke-width="0.5" />
<line x1="29.424999999999997" y1="340.2" x2="29.424999999999997" y2="338.8" stroke="#000" stroke-width="0.5" />
<line x1="21.2" y1="283.85" x2="22.599999999999998" y2="283.85" stroke="#000" stroke-width="0.5" />
<line x1="32.166666666666664" y1="340.2" x2="32.166666666666664" y2="338.8" stroke="#000" stroke-width="0.5" />
<line x1="21.2" y1="286.53333333333336" x2="22.599999999999998" y2="286.53333333333336" stroke="#000" stroke-width="0.5" />
<line x1="34.90833333333333" y1="340.2" x2="34.90833333333333" y2="338.8" stroke="#000" stroke-width="0.5" />
<line x1="21.2" y1="289.2166666666667" x2="22.599999999999998" y2="289.2166666666667" stroke="#000" stroke-width="0.5" />
<line x1="37.65" y1="340.2" x2="37.65" y2="338.8" stroke="#000" stroke-width="0.5" />
<line x1="21.2" y1="291.9" x2="22.599999999999998" y2="291.9" stroke="#000" stroke-width="0.5" />
<line x1="40.391666666666666" y1="340.2" x2="40.391666666666666" y2="338.8" stroke="#000" stroke-width="0.5" />
<line x1="21.2" y1="294.5833333333333" x2="22.599999999999998" y2="294.5833333333333" stroke="#000" stroke-width="0.5" />
<line x1="43.13333333333333" y1="340.2" x2="43.13333333333333" y2="338.8" stroke="#000" stroke-width="0.5" />
<line x1="21.2" y1="297.26666666666665" x2="22.599999999999998" y2="297.26666666666665" stroke="#000" stroke-width="0.5" />
<line x1="45.875" y1="340.2" x2="45.875" y2="338.8" stroke="#000" stroke-width="0.5" />
<line x1="21.2" y1="299.95" x2="22.599999999999998" y2="299.95" stroke="#000" stroke-width="0.5" />
<line x1="48.61666666666667" y1="340.2" x2="48.61666666666667" y2="338.8" stroke="#000" stroke-width="0.5" />
<line x1="21.2" y1="302.6333333333333" x2="22.599999999999998" y2="302.6333333333333" stroke="#000" stroke-width="0.5" />
<line x1="51.358333333333334" y1="340.2" x2="51.358333333333334" y2="338.8" stroke="#000" stroke-width="0.5" />
<line x1="21.2" y1="305.31666666666666" x2="22.599999999999998" y2="305.31666666666666" stroke="#000" stroke-width="0.5" />
<line x1="54.099999999999994" y1="340.2" x2="54.099999999999994" y2="338.8" stroke="#000" stroke-width="0.5" />
<line x1="21.2" y1="308.0" x2="22.599999999999998" y2="308.0" stroke="#000" stroke-width="0.5" />
<line x1="56.84166666666667" y1="340.2" x2="56.84166666666667" y2="338.8" stroke="#000" stroke-width="0.5" />
<line x1="21.2" y1="310.68333333333334" x2="22.599999999999998" y2="310.68333333333334" stroke="#000" stroke-width="0.5" />
<line x1="59.58333333333333" y1="340.2" x2="59.58333333333333" y2="338.8" stroke="#000" stroke-width="0.5" />
<line x1="21.2" y1="313.3666666666667" x2="22.599999999999998" y2="313.3666666666667" stroke="#000" stroke-width="0.5" />
<line x1="62.325" y1="340.2" x2="62.325" y2="338.8" stroke="#000" stroke-width="0.5" />
<line x1="21.2" y1="316.05" x2="22.599999999999998" y2="316.05" stroke="#000" stroke-width="0.5" />
<line x1="65.06666666666666" y1="340.2" x2="65.06666666666666" y2="338.8" stroke="#000" stroke-width="0.5" />
<line x1="21.2" y1="318.73333333333335" x2="22.599999999999998" y2="318.73333333333335" stroke="#000" stroke-width="0.5" />
<line x1="67.80833333333332" y1="340.2" x2="67.80833333333332" y2="338.8" stroke="#000" stroke-width="0.5" />
<line x1="21.2" y1="321.4166666666667" x2="22.599999999999998" y2="321.4166666666667" stroke="#000" stroke-width="0.5" />
<line x1="70.55" y1="340.2" x2="70.55" y2="338.8" stroke="#000" stroke-width="0.5" />
<line x1="21.2" y1="324.1" x2="22.599999999999998" y2="324.1" stroke="#000" stroke-width="0.5" />
<line x1="73.29166666666667" y1="340.2" x2="73.29166666666667" y2="338.8" stroke="#000" stroke-width="0.5" />
<line x1="21.2" y1="326.7833333333333" x2="22.599999999999998" y2="326.7833333333333" stroke="#000" stroke-width="0.5" />
<line x1="76.03333333333333" y1="340.2" x2="76.03333333333333" y2="338.8" stroke="#000" stroke-width="0.5" />
<line x1="21.2" y1="329.46666666666664" x2="22.599999999999998" y2="329.46666666666664" stroke="#000" stroke-width="0.5" />
<line x1="78.77499999999999" y1="340.2" x2="78.77499999999999" y2="338.8" stroke="#000" stroke-width="0.5" />
<line x1="21.2" y1="332.15" x2="22.599999999999998" y2="332.15" stroke="#000" stroke-width="0.5" />
<line x1="81.51666666666667" y1="340.2" x2="81.51666666666667" y2="338.8" stroke="#000" stroke-width="0.5" />
<line x1="21.2" y1="334.8333333333333" x2="22.599999999999998" y2="334.8333333333333" stroke="#000" stroke-width="0.5" />
<line x1="84.25833333333333" y1="340.2" x2="84.25833333333333" y2="338.8" stroke="#000" stroke-width="0.5" />
<line x1="21.2" y1="337.51666666666665" x2="22.599999999999998" y2="337.51666666666665" stroke="#000" stroke-width="0.5" />
<line x1="58.4" y1="275.8" x2="58.4" y2="340.2" stroke="#000" stroke-width="1.3" />
<line x1="21.2" y1="306.5" x2="87" y2="306.5" stroke="#000" stroke-width="1.3" />
<path d="M56.98 301.48C57.54 300.81 58.78 300.65 60.27 300.73C61.76 300.81 64.18 301.20 65.91 301.95C67.63 302.70 69.43 303.91 70.61 305.24C71.78 306.57 72.64 308.38 72.96 309.94C73.27 311.51 73.11 313.34 72.49 314.64C71.86 315.94 70.53 317.20 69.20 317.74C67.87 318.29 65.91 318.37 64.50 317.93C63.09 317.49 61.76 316.44 60.74 315.11C59.72 313.78 59.03 311.67 58.39 309.94C57.74 308.22 57.12 306.18 56.88 304.77C56.65 303.36 56.41 302.16 56.98 301.48Z" fill="#000" stroke="#000" stroke-width="0.6"/><path d="M58.74 303.36C59.18 302.83 60.15 302.71 61.31 302.77C62.47 302.83 64.36 303.14 65.71 303.72C67.05 304.31 68.46 305.25 69.37 306.29C70.29 307.33 70.96 308.73 71.21 309.96C71.45 311.18 71.33 312.61 70.84 313.62C70.35 314.64 69.31 315.61 68.27 316.04C67.23 316.47 65.71 316.53 64.61 316.19C63.51 315.85 62.47 315.03 61.67 313.99C60.88 312.95 60.34 311.30 59.84 309.96C59.34 308.61 58.85 307.02 58.67 305.92C58.49 304.82 58.30 303.88 58.74 303.36Z" fill="none" stroke="#fff" stroke-width="0.45" opacity="0.5"/><path d="M60.51 305.23C60.82 304.85 61.52 304.77 62.35 304.81C63.18 304.85 64.54 305.07 65.51 305.49C66.47 305.91 67.48 306.59 68.14 307.34C68.80 308.08 69.28 309.09 69.46 309.97C69.63 310.85 69.54 311.87 69.19 312.60C68.84 313.33 68.10 314.03 67.35 314.34C66.60 314.64 65.51 314.69 64.72 314.44C63.93 314.20 63.18 313.61 62.61 312.86C62.04 312.12 61.66 310.93 61.30 309.97C60.94 309.00 60.59 307.86 60.45 307.07C60.32 306.28 60.19 305.61 60.51 305.23Z" fill="none" stroke="#fff" stroke-width="0.45" opacity="0.55"/><path d="M62.11 306.93C62.31 306.69 62.76 306.63 63.30 306.66C63.83 306.69 64.71 306.83 65.33 307.10C65.95 307.37 66.60 307.81 67.02 308.29C67.44 308.77 67.75 309.42 67.86 309.98C67.98 310.54 67.92 311.20 67.70 311.67C67.47 312.14 66.99 312.59 66.51 312.79C66.03 312.99 65.33 313.01 64.82 312.86C64.31 312.70 63.83 312.32 63.47 311.84C63.10 311.36 62.85 310.60 62.62 309.98C62.39 309.36 62.16 308.63 62.08 308.12C61.99 307.61 61.91 307.18 62.11 306.93Z" fill="none" stroke="#fff" stroke-width="0.45" opacity="0.6"/><ellipse cx="65" cy="310" rx="0.9" ry="1.2" fill="#fff" opacity="0.85"/>
<text x="23.8" y="284.8" font-size="8.9" text-anchor="start" stroke="#000" stroke-width="0.55">3%</text>
<text x="86.0" y="284.8" font-size="8.9" text-anchor="end" stroke="#000" stroke-width="0.55">13%</text>
<text x="23.8" y="338.7" font-size="8.9" text-anchor="start" stroke="#000" stroke-width="0.55">1%</text>
<text x="86.0" y="338.7" font-size="8.9" text-anchor="end" stroke="#000" stroke-width="0.55">83%</text>
<rect x="93.4" y="275.8" width="65.1" height="64.4" fill="none" stroke="#333" stroke-width="0.95"/>
<line x1="96.11250000000001" y1="340.2" x2="96.11250000000001" y2="338.8" stroke="#000" stroke-width="0.5" />
<line x1="93.4" y1="278.48333333333335" x2="94.80000000000001" y2="278.48333333333335" stroke="#000" stroke-width="0.5" />
<line x1="98.825" y1="340.2" x2="98.825" y2="338.8" stroke="#000" stroke-width="0.5" />
<line x1="93.4" y1="281.1666666666667" x2="94.80000000000001" y2="281.1666666666667" stroke="#000" stroke-width="0.5" />
<line x1="101.53750000000001" y1="340.2" x2="101.53750000000001" y2="338.8" stroke="#000" stroke-width="0.5" />
<line x1="93.4" y1="283.85" x2="94.80000000000001" y2="283.85" stroke="#000" stroke-width="0.5" />
<line x1="104.25" y1="340.2" x2="104.25" y2="338.8" stroke="#000" stroke-width="0.5" />
<line x1="93.4" y1="286.53333333333336" x2="94.80000000000001" y2="286.53333333333336" stroke="#000" stroke-width="0.5" />
<line x1="106.9625" y1="340.2" x2="106.9625" y2="338.8" stroke="#000" stroke-width="0.5" />
<line x1="93.4" y1="289.2166666666667" x2="94.80000000000001" y2="289.2166666666667" stroke="#000" stroke-width="0.5" />
<line x1="109.67500000000001" y1="340.2" x2="109.67500000000001" y2="338.8" stroke="#000" stroke-width="0.5" />
<line x1="93.4" y1="291.9" x2="94.80000000000001" y2="291.9" stroke="#000" stroke-width="0.5" />
<line x1="112.3875" y1="340.2" x2="112.3875" y2="338.8" stroke="#000" stroke-width="0.5" />
<line x1="93.4" y1="294.5833333333333" x2="94.80000000000001" y2="294.5833333333333" stroke="#000" stroke-width="0.5" />
<line x1="115.10000000000001" y1="340.2" x2="115.10000000000001" y2="338.8" stroke="#000" stroke-width="0.5" />
<line x1="93.4" y1="297.26666666666665" x2="94.80000000000001" y2="297.26666666666665" stroke="#000" stroke-width="0.5" />
<line x1="117.8125" y1="340.2" x2="117.8125" y2="338.8" stroke="#000" stroke-width="0.5" />
<line x1="93.4" y1="299.95" x2="94.80000000000001" y2="299.95" stroke="#000" stroke-width="0.5" />
<line x1="120.525" y1="340.2" x2="120.525" y2="338.8" stroke="#000" stroke-width="0.5" />
<line x1="93.4" y1="302.6333333333333" x2="94.80000000000001" y2="302.6333333333333" stroke="#000" stroke-width="0.5" />
<line x1="123.2375" y1="340.2" x2="123.2375" y2="338.8" stroke="#000" stroke-width="0.5" />
<line x1="93.4" y1="305.31666666666666" x2="94.80000000000001" y2="305.31666666666666" stroke="#000" stroke-width="0.5" />
<line x1="125.95" y1="340.2" x2="125.95" y2="338.8" stroke="#000" stroke-width="0.5" />
<line x1="93.4" y1="308.0" x2="94.80000000000001" y2="308.0" stroke="#000" stroke-width="0.5" />
<line x1="128.6625" y1="340.2" x2="128.6625" y2="338.8" stroke="#000" stroke-width="0.5" />
<line x1="93.4" y1="310.68333333333334" x2="94.80000000000001" y2="310.68333333333334" stroke="#000" stroke-width="0.5" />
<line x1="131.375" y1="340.2" x2="131.375" y2="338.8" stroke="#000" stroke-width="0.5" />
<line x1="93.4" y1="313.3666666666667" x2="94.80000000000001" y2="313.3666666666667" stroke="#000" stroke-width="0.5" />
<line x1="134.0875" y1="340.2" x2="134.0875" y2="338.8" stroke="#000" stroke-width="0.5" />
<line x1="93.4" y1="316.05" x2="94.80000000000001" y2="316.05" stroke="#000" stroke-width="0.5" />
<line x1="136.8" y1="340.2" x2="136.8" y2="338.8" stroke="#000" stroke-width="0.5" />
<line x1="93.4" y1="318.73333333333335" x2="94.80000000000001" y2="318.73333333333335" stroke="#000" stroke-width="0.5" />
<line x1="139.5125" y1="340.2" x2="139.5125" y2="338.8" stroke="#000" stroke-width="0.5" />
<line x1="93.4" y1="321.4166666666667" x2="94.80000000000001" y2="321.4166666666667" stroke="#000" stroke-width="0.5" />
<line x1="142.225" y1="340.2" x2="142.225" y2="338.8" stroke="#000" stroke-width="0.5" />
<line x1="93.4" y1="324.1" x2="94.80000000000001" y2="324.1" stroke="#000" stroke-width="0.5" />
<line x1="144.9375" y1="340.2" x2="144.9375" y2="338.8" stroke="#000" stroke-width="0.5" />
<line x1="93.4" y1="326.7833333333333" x2="94.80000000000001" y2="326.7833333333333" stroke="#000" stroke-width="0.5" />
<line x1="147.65" y1="340.2" x2="147.65" y2="338.8" stroke="#000" stroke-width="0.5" />
<line x1="93.4" y1="329.46666666666664" x2="94.80000000000001" y2="329.46666666666664" stroke="#000" stroke-width="0.5" />
<line x1="150.3625" y1="340.2" x2="150.3625" y2="338.8" stroke="#000" stroke-width="0.5" />
<line x1="93.4" y1="332.15" x2="94.80000000000001" y2="332.15" stroke="#000" stroke-width="0.5" />
<line x1="153.075" y1="340.2" x2="153.075" y2="338.8" stroke="#000" stroke-width="0.5" />
<line x1="93.4" y1="334.8333333333333" x2="94.80000000000001" y2="334.8333333333333" stroke="#000" stroke-width="0.5" />
<line x1="155.7875" y1="340.2" x2="155.7875" y2="338.8" stroke="#000" stroke-width="0.5" />
<line x1="93.4" y1="337.51666666666665" x2="94.80000000000001" y2="337.51666666666665" stroke="#000" stroke-width="0.5" />
<line x1="129.8" y1="275.8" x2="129.8" y2="340.2" stroke="#000" stroke-width="1.3" />
<line x1="93.4" y1="306.3" x2="158.5" y2="306.3" stroke="#000" stroke-width="1.3" />
<path d="M128.97 291.70C129.83 291.93 130.70 292.95 131.51 294.05C132.33 295.14 132.92 296.79 133.86 298.28C134.80 299.76 136.13 301.41 137.15 302.98C138.17 304.54 139.49 306.34 139.97 307.68C140.46 309.01 140.54 310.06 140.07 310.97C139.60 311.87 138.34 312.89 137.15 313.13C135.96 313.36 134.25 313.05 132.92 312.38C131.59 311.70 130.34 310.34 129.16 309.09C127.99 307.83 126.69 306.34 125.87 304.86C125.06 303.37 124.48 301.64 124.27 300.16C124.07 298.67 124.30 297.18 124.65 295.93C124.99 294.67 125.62 293.34 126.34 292.64C127.06 291.93 128.11 291.46 128.97 291.70Z" fill="#000" stroke="#000" stroke-width="0.6"/><path d="M129.97 294.73C130.64 294.92 131.31 295.71 131.95 296.57C132.58 297.42 133.05 298.70 133.78 299.87C134.51 301.03 135.55 302.31 136.35 303.53C137.14 304.75 138.17 306.16 138.55 307.20C138.93 308.24 138.99 309.05 138.62 309.76C138.25 310.47 137.28 311.27 136.35 311.45C135.42 311.63 134.09 311.39 133.05 310.86C132.01 310.34 131.03 309.27 130.12 308.30C129.20 307.32 128.18 306.16 127.55 305.00C126.91 303.84 126.46 302.49 126.30 301.33C126.14 300.17 126.33 299.01 126.60 298.03C126.87 297.05 127.35 296.02 127.92 295.47C128.48 294.92 129.30 294.55 129.97 294.73Z" fill="none" stroke="#fff" stroke-width="0.45" opacity="0.5"/><path d="M130.96 297.77C131.45 297.90 131.93 298.47 132.39 299.09C132.84 299.70 133.18 300.62 133.70 301.45C134.23 302.29 134.97 303.21 135.54 304.09C136.11 304.96 136.85 305.97 137.12 306.72C137.40 307.46 137.44 308.05 137.18 308.56C136.91 309.07 136.21 309.64 135.54 309.77C134.88 309.90 133.92 309.73 133.18 309.35C132.43 308.97 131.73 308.21 131.07 307.51C130.41 306.81 129.68 305.97 129.23 305.14C128.77 304.31 128.45 303.34 128.33 302.51C128.22 301.67 128.35 300.84 128.54 300.14C128.74 299.44 129.09 298.69 129.49 298.30C129.89 297.90 130.48 297.64 130.96 297.77Z" fill="none" stroke="#fff" stroke-width="0.45" opacity="0.55"/><path d="M131.87 300.53C132.18 300.62 132.49 300.98 132.78 301.38C133.08 301.77 133.29 302.36 133.63 302.90C133.97 303.44 134.45 304.03 134.81 304.59C135.18 305.16 135.65 305.80 135.83 306.28C136.00 306.76 136.03 307.14 135.86 307.47C135.69 307.79 135.24 308.16 134.81 308.25C134.39 308.33 133.77 308.22 133.29 307.98C132.81 307.73 132.36 307.24 131.94 306.79C131.51 306.34 131.05 305.80 130.75 305.27C130.46 304.73 130.25 304.11 130.18 303.58C130.10 303.04 130.19 302.50 130.31 302.05C130.44 301.60 130.66 301.12 130.92 300.87C131.18 300.62 131.56 300.45 131.87 300.53Z" fill="none" stroke="#fff" stroke-width="0.45" opacity="0.6"/><ellipse cx="133.5" cy="305.5" rx="0.9" ry="1.2" fill="#fff" opacity="0.85"/>
<text x="96.0" y="284.8" font-size="8.9" text-anchor="start" stroke="#000" stroke-width="0.55">36%</text>
<text x="157.5" y="284.8" font-size="8.9" text-anchor="end" stroke="#000" stroke-width="0.55">29%</text>
<text x="96.0" y="338.7" font-size="8.9" text-anchor="start" stroke="#000" stroke-width="0.55">5%</text>
<text x="157.5" y="338.7" font-size="8.9" text-anchor="end" stroke="#000" stroke-width="0.55">30%</text>
<rect x="21.2" y="346" width="65.8" height="64.3" fill="none" stroke="#333" stroke-width="0.95"/>
<line x1="23.941666666666666" y1="410.3" x2="23.941666666666666" y2="408.90000000000003" stroke="#000" stroke-width="0.5" />
<line x1="21.2" y1="348.6791666666667" x2="22.599999999999998" y2="348.6791666666667" stroke="#000" stroke-width="0.5" />
<line x1="26.683333333333334" y1="410.3" x2="26.683333333333334" y2="408.90000000000003" stroke="#000" stroke-width="0.5" />
<line x1="21.2" y1="351.35833333333335" x2="22.599999999999998" y2="351.35833333333335" stroke="#000" stroke-width="0.5" />
<line x1="29.424999999999997" y1="410.3" x2="29.424999999999997" y2="408.90000000000003" stroke="#000" stroke-width="0.5" />
<line x1="21.2" y1="354.0375" x2="22.599999999999998" y2="354.0375" stroke="#000" stroke-width="0.5" />
<line x1="32.166666666666664" y1="410.3" x2="32.166666666666664" y2="408.90000000000003" stroke="#000" stroke-width="0.5" />
<line x1="21.2" y1="356.7166666666667" x2="22.599999999999998" y2="356.7166666666667" stroke="#000" stroke-width="0.5" />
<line x1="34.90833333333333" y1="410.3" x2="34.90833333333333" y2="408.90000000000003" stroke="#000" stroke-width="0.5" />
<line x1="21.2" y1="359.3958333333333" x2="22.599999999999998" y2="359.3958333333333" stroke="#000" stroke-width="0.5" />
<line x1="37.65" y1="410.3" x2="37.65" y2="408.90000000000003" stroke="#000" stroke-width="0.5" />
<line x1="21.2" y1="362.075" x2="22.599999999999998" y2="362.075" stroke="#000" stroke-width="0.5" />
<line x1="40.391666666666666" y1="410.3" x2="40.391666666666666" y2="408.90000000000003" stroke="#000" stroke-width="0.5" />
<line x1="21.2" y1="364.75416666666666" x2="22.599999999999998" y2="364.75416666666666" stroke="#000" stroke-width="0.5" />
<line x1="43.13333333333333" y1="410.3" x2="43.13333333333333" y2="408.90000000000003" stroke="#000" stroke-width="0.5" />
<line x1="21.2" y1="367.43333333333334" x2="22.599999999999998" y2="367.43333333333334" stroke="#000" stroke-width="0.5" />
<line x1="45.875" y1="410.3" x2="45.875" y2="408.90000000000003" stroke="#000" stroke-width="0.5" />
<line x1="21.2" y1="370.1125" x2="22.599999999999998" y2="370.1125" stroke="#000" stroke-width="0.5" />
<line x1="48.61666666666667" y1="410.3" x2="48.61666666666667" y2="408.90000000000003" stroke="#000" stroke-width="0.5" />
<line x1="21.2" y1="372.7916666666667" x2="22.599999999999998" y2="372.7916666666667" stroke="#000" stroke-width="0.5" />
<line x1="51.358333333333334" y1="410.3" x2="51.358333333333334" y2="408.90000000000003" stroke="#000" stroke-width="0.5" />
<line x1="21.2" y1="375.47083333333336" x2="22.599999999999998" y2="375.47083333333336" stroke="#000" stroke-width="0.5" />
<line x1="54.099999999999994" y1="410.3" x2="54.099999999999994" y2="408.90000000000003" stroke="#000" stroke-width="0.5" />
<line x1="21.2" y1="378.15" x2="22.599999999999998" y2="378.15" stroke="#000" stroke-width="0.5" />
<line x1="56.84166666666667" y1="410.3" x2="56.84166666666667" y2="408.90000000000003" stroke="#000" stroke-width="0.5" />
<line x1="21.2" y1="380.82916666666665" x2="22.599999999999998" y2="380.82916666666665" stroke="#000" stroke-width="0.5" />
<line x1="59.58333333333333" y1="410.3" x2="59.58333333333333" y2="408.90000000000003" stroke="#000" stroke-width="0.5" />
<line x1="21.2" y1="383.5083333333333" x2="22.599999999999998" y2="383.5083333333333" stroke="#000" stroke-width="0.5" />
<line x1="62.325" y1="410.3" x2="62.325" y2="408.90000000000003" stroke="#000" stroke-width="0.5" />
<line x1="21.2" y1="386.1875" x2="22.599999999999998" y2="386.1875" stroke="#000" stroke-width="0.5" />
<line x1="65.06666666666666" y1="410.3" x2="65.06666666666666" y2="408.90000000000003" stroke="#000" stroke-width="0.5" />
<line x1="21.2" y1="388.8666666666667" x2="22.599999999999998" y2="388.8666666666667" stroke="#000" stroke-width="0.5" />
<line x1="67.80833333333332" y1="410.3" x2="67.80833333333332" y2="408.90000000000003" stroke="#000" stroke-width="0.5" />
<line x1="21.2" y1="391.54583333333335" x2="22.599999999999998" y2="391.54583333333335" stroke="#000" stroke-width="0.5" />
<line x1="70.55" y1="410.3" x2="70.55" y2="408.90000000000003" stroke="#000" stroke-width="0.5" />
<line x1="21.2" y1="394.225" x2="22.599999999999998" y2="394.225" stroke="#000" stroke-width="0.5" />
<line x1="73.29166666666667" y1="410.3" x2="73.29166666666667" y2="408.90000000000003" stroke="#000" stroke-width="0.5" />
<line x1="21.2" y1="396.9041666666667" x2="22.599999999999998" y2="396.9041666666667" stroke="#000" stroke-width="0.5" />
<line x1="76.03333333333333" y1="410.3" x2="76.03333333333333" y2="408.90000000000003" stroke="#000" stroke-width="0.5" />
<line x1="21.2" y1="399.58333333333337" x2="22.599999999999998" y2="399.58333333333337" stroke="#000" stroke-width="0.5" />
<line x1="78.77499999999999" y1="410.3" x2="78.77499999999999" y2="408.90000000000003" stroke="#000" stroke-width="0.5" />
<line x1="21.2" y1="402.2625" x2="22.599999999999998" y2="402.2625" stroke="#000" stroke-width="0.5" />
<line x1="81.51666666666667" y1="410.3" x2="81.51666666666667" y2="408.90000000000003" stroke="#000" stroke-width="0.5" />
<line x1="21.2" y1="404.94166666666666" x2="22.599999999999998" y2="404.94166666666666" stroke="#000" stroke-width="0.5" />
<line x1="84.25833333333333" y1="410.3" x2="84.25833333333333" y2="408.90000000000003" stroke="#000" stroke-width="0.5" />
<line x1="21.2" y1="407.62083333333334" x2="22.599999999999998" y2="407.62083333333334" stroke="#000" stroke-width="0.5" />
<line x1="58.4" y1="346" x2="58.4" y2="410.3" stroke="#000" stroke-width="1.3" />
<line x1="21.2" y1="376.5" x2="87" y2="376.5" stroke="#000" stroke-width="1.3" />
<path d="M55.82 365.64C56.29 364.70 57.70 364.46 58.83 364.70C59.96 364.94 61.26 365.95 62.59 367.05C63.92 368.15 65.41 369.79 66.82 371.28C68.23 372.77 70.03 374.41 71.05 375.98C72.07 377.55 72.77 379.27 72.93 380.68C73.09 382.09 72.69 383.58 71.99 384.44C71.28 385.30 69.95 385.77 68.70 385.85C67.45 385.93 65.80 385.69 64.47 384.91C63.14 384.13 61.81 382.64 60.71 381.15C59.61 379.66 58.67 377.78 57.89 375.98C57.11 374.18 56.35 372.06 56.01 370.34C55.66 368.62 55.35 366.58 55.82 365.64Z" fill="#000" stroke="#000" stroke-width="0.6"/><path d="M58.06 368.36C58.43 367.63 59.53 367.44 60.41 367.63C61.29 367.81 62.30 368.60 63.34 369.46C64.38 370.31 65.54 371.60 66.64 372.76C67.74 373.92 69.14 375.20 69.94 376.42C70.73 377.65 71.28 378.99 71.40 380.09C71.53 381.19 71.22 382.35 70.67 383.02C70.12 383.70 69.08 384.06 68.11 384.12C67.13 384.18 65.84 384.00 64.81 383.39C63.77 382.78 62.73 381.62 61.87 380.46C61.02 379.30 60.28 377.83 59.67 376.42C59.06 375.02 58.48 373.37 58.21 372.03C57.94 370.68 57.69 369.09 58.06 368.36Z" fill="none" stroke="#fff" stroke-width="0.45" opacity="0.5"/><path d="M60.30 371.08C60.56 370.55 61.35 370.42 61.98 370.55C62.62 370.68 63.34 371.25 64.09 371.87C64.84 372.48 65.67 373.40 66.46 374.24C67.25 375.07 68.26 375.99 68.83 376.87C69.40 377.75 69.79 378.71 69.88 379.50C69.97 380.29 69.75 381.12 69.35 381.61C68.96 382.09 68.21 382.35 67.51 382.40C66.81 382.44 65.89 382.31 65.14 381.87C64.40 381.43 63.65 380.60 63.04 379.76C62.42 378.93 61.90 377.88 61.46 376.87C61.02 375.86 60.60 374.68 60.41 373.71C60.21 372.75 60.04 371.60 60.30 371.08Z" fill="none" stroke="#fff" stroke-width="0.45" opacity="0.55"/><path d="M62.34 373.55C62.50 373.21 63.01 373.13 63.42 373.21C63.82 373.30 64.29 373.66 64.77 374.06C65.25 374.45 65.79 375.05 66.29 375.58C66.80 376.12 67.45 376.71 67.82 377.27C68.18 377.84 68.44 378.46 68.49 378.96C68.55 379.47 68.41 380.01 68.16 380.32C67.90 380.63 67.42 380.80 66.97 380.83C66.52 380.85 65.93 380.77 65.45 380.49C64.97 380.21 64.49 379.67 64.10 379.13C63.70 378.60 63.36 377.92 63.08 377.27C62.80 376.62 62.53 375.86 62.40 375.24C62.28 374.62 62.17 373.89 62.34 373.55Z" fill="none" stroke="#fff" stroke-width="0.45" opacity="0.6"/><ellipse cx="66" cy="378" rx="0.9" ry="1.2" fill="#fff" opacity="0.85"/>
<text x="23.8" y="355" font-size="8.9" text-anchor="start" stroke="#000" stroke-width="0.55">7%</text>
<text x="86.0" y="355" font-size="8.9" text-anchor="end" stroke="#000" stroke-width="0.55">37%</text>
<text x="23.8" y="408.8" font-size="8.9" text-anchor="start" stroke="#000" stroke-width="0.55">1%</text>
<text x="86.0" y="408.8" font-size="8.9" text-anchor="end" stroke="#000" stroke-width="0.55">55%</text>
<rect x="93.4" y="346" width="65.1" height="64.3" fill="none" stroke="#333" stroke-width="0.95"/>
<line x1="96.11250000000001" y1="410.3" x2="96.11250000000001" y2="408.90000000000003" stroke="#000" stroke-width="0.5" />
<line x1="93.4" y1="348.6791666666667" x2="94.80000000000001" y2="348.6791666666667" stroke="#000" stroke-width="0.5" />
<line x1="98.825" y1="410.3" x2="98.825" y2="408.90000000000003" stroke="#000" stroke-width="0.5" />
<line x1="93.4" y1="351.35833333333335" x2="94.80000000000001" y2="351.35833333333335" stroke="#000" stroke-width="0.5" />
<line x1="101.53750000000001" y1="410.3" x2="101.53750000000001" y2="408.90000000000003" stroke="#000" stroke-width="0.5" />
<line x1="93.4" y1="354.0375" x2="94.80000000000001" y2="354.0375" stroke="#000" stroke-width="0.5" />
<line x1="104.25" y1="410.3" x2="104.25" y2="408.90000000000003" stroke="#000" stroke-width="0.5" />
<line x1="93.4" y1="356.7166666666667" x2="94.80000000000001" y2="356.7166666666667" stroke="#000" stroke-width="0.5" />
<line x1="106.9625" y1="410.3" x2="106.9625" y2="408.90000000000003" stroke="#000" stroke-width="0.5" />
<line x1="93.4" y1="359.3958333333333" x2="94.80000000000001" y2="359.3958333333333" stroke="#000" stroke-width="0.5" />
<line x1="109.67500000000001" y1="410.3" x2="109.67500000000001" y2="408.90000000000003" stroke="#000" stroke-width="0.5" />
<line x1="93.4" y1="362.075" x2="94.80000000000001" y2="362.075" stroke="#000" stroke-width="0.5" />
<line x1="112.3875" y1="410.3" x2="112.3875" y2="408.90000000000003" stroke="#000" stroke-width="0.5" />
<line x1="93.4" y1="364.75416666666666" x2="94.80000000000001" y2="364.75416666666666" stroke="#000" stroke-width="0.5" />
<line x1="115.10000000000001" y1="410.3" x2="115.10000000000001" y2="408.90000000000003" stroke="#000" stroke-width="0.5" />
<line x1="93.4" y1="367.43333333333334" x2="94.80000000000001" y2="367.43333333333334" stroke="#000" stroke-width="0.5" />
<line x1="117.8125" y1="410.3" x2="117.8125" y2="408.90000000000003" stroke="#000" stroke-width="0.5" />
<line x1="93.4" y1="370.1125" x2="94.80000000000001" y2="370.1125" stroke="#000" stroke-width="0.5" />
<line x1="120.525" y1="410.3" x2="120.525" y2="408.90000000000003" stroke="#000" stroke-width="0.5" />
<line x1="93.4" y1="372.7916666666667" x2="94.80000000000001" y2="372.7916666666667" stroke="#000" stroke-width="0.5" />
<line x1="123.2375" y1="410.3" x2="123.2375" y2="408.90000000000003" stroke="#000" stroke-width="0.5" />
<line x1="93.4" y1="375.47083333333336" x2="94.80000000000001" y2="375.47083333333336" stroke="#000" stroke-width="0.5" />
<line x1="125.95" y1="410.3" x2="125.95" y2="408.90000000000003" stroke="#000" stroke-width="0.5" />
<line x1="93.4" y1="378.15" x2="94.80000000000001" y2="378.15" stroke="#000" stroke-width="0.5" />
<line x1="128.6625" y1="410.3" x2="128.6625" y2="408.90000000000003" stroke="#000" stroke-width="0.5" />
<line x1="93.4" y1="380.82916666666665" x2="94.80000000000001" y2="380.82916666666665" stroke="#000" stroke-width="0.5" />
<line x1="131.375" y1="410.3" x2="131.375" y2="408.90000000000003" stroke="#000" stroke-width="0.5" />
<line x1="93.4" y1="383.5083333333333" x2="94.80000000000001" y2="383.5083333333333" stroke="#000" stroke-width="0.5" />
<line x1="134.0875" y1="410.3" x2="134.0875" y2="408.90000000000003" stroke="#000" stroke-width="0.5" />
<line x1="93.4" y1="386.1875" x2="94.80000000000001" y2="386.1875" stroke="#000" stroke-width="0.5" />
<line x1="136.8" y1="410.3" x2="136.8" y2="408.90000000000003" stroke="#000" stroke-width="0.5" />
<line x1="93.4" y1="388.8666666666667" x2="94.80000000000001" y2="388.8666666666667" stroke="#000" stroke-width="0.5" />
<line x1="139.5125" y1="410.3" x2="139.5125" y2="408.90000000000003" stroke="#000" stroke-width="0.5" />
<line x1="93.4" y1="391.54583333333335" x2="94.80000000000001" y2="391.54583333333335" stroke="#000" stroke-width="0.5" />
<line x1="142.225" y1="410.3" x2="142.225" y2="408.90000000000003" stroke="#000" stroke-width="0.5" />
<line x1="93.4" y1="394.225" x2="94.80000000000001" y2="394.225" stroke="#000" stroke-width="0.5" />
<line x1="144.9375" y1="410.3" x2="144.9375" y2="408.90000000000003" stroke="#000" stroke-width="0.5" />
<line x1="93.4" y1="396.9041666666667" x2="94.80000000000001" y2="396.9041666666667" stroke="#000" stroke-width="0.5" />
<line x1="147.65" y1="410.3" x2="147.65" y2="408.90000000000003" stroke="#000" stroke-width="0.5" />
<line x1="93.4" y1="399.58333333333337" x2="94.80000000000001" y2="399.58333333333337" stroke="#000" stroke-width="0.5" />
<line x1="150.3625" y1="410.3" x2="150.3625" y2="408.90000000000003" stroke="#000" stroke-width="0.5" />
<line x1="93.4" y1="402.2625" x2="94.80000000000001" y2="402.2625" stroke="#000" stroke-width="0.5" />
<line x1="153.075" y1="410.3" x2="153.075" y2="408.90000000000003" stroke="#000" stroke-width="0.5" />
<line x1="93.4" y1="404.94166666666666" x2="94.80000000000001" y2="404.94166666666666" stroke="#000" stroke-width="0.5" />
<line x1="155.7875" y1="410.3" x2="155.7875" y2="408.90000000000003" stroke="#000" stroke-width="0.5" />
<line x1="93.4" y1="407.62083333333334" x2="94.80000000000001" y2="407.62083333333334" stroke="#000" stroke-width="0.5" />
<line x1="129.8" y1="346" x2="129.8" y2="410.3" stroke="#000" stroke-width="1.3" />
<line x1="93.4" y1="376.5" x2="158.5" y2="376.5" stroke="#000" stroke-width="1.3" />
<path d="M128.72 358.79C129.58 358.87 130.68 359.57 131.54 360.67C132.40 361.76 132.95 363.64 133.89 365.37C134.83 367.09 136.08 369.13 137.18 371.01C138.28 372.89 139.84 375.08 140.47 376.65C141.10 378.21 141.25 379.34 140.94 380.41C140.63 381.47 139.69 382.73 138.59 383.04C137.49 383.35 135.77 382.96 134.36 382.29C132.95 381.61 131.46 380.33 130.13 379.00C128.80 377.67 127.28 375.94 126.37 374.30C125.46 372.65 124.91 370.85 124.68 369.13C124.44 367.40 124.68 365.45 124.96 363.96C125.24 362.47 125.74 361.06 126.37 360.20C127.00 359.34 127.86 358.71 128.72 358.79Z" fill="#000" stroke="#000" stroke-width="0.6"/><path d="M129.77 362.13C130.44 362.20 131.30 362.75 131.97 363.60C132.64 364.46 133.07 365.92 133.80 367.27C134.54 368.61 135.52 370.20 136.37 371.67C137.23 373.13 138.45 374.84 138.94 376.07C139.43 377.29 139.55 378.17 139.30 379.00C139.06 379.83 138.33 380.81 137.47 381.05C136.61 381.30 135.27 380.99 134.17 380.46C133.07 379.94 131.91 378.94 130.87 377.90C129.83 376.86 128.65 375.52 127.94 374.23C127.23 372.95 126.80 371.54 126.62 370.20C126.44 368.86 126.62 367.33 126.84 366.17C127.06 365.01 127.45 363.91 127.94 363.23C128.43 362.56 129.10 362.07 129.77 362.13Z" fill="none" stroke="#fff" stroke-width="0.45" opacity="0.5"/><path d="M130.82 365.48C131.31 365.53 131.92 365.92 132.40 366.53C132.89 367.15 133.19 368.20 133.72 369.17C134.24 370.13 134.95 371.27 135.56 372.32C136.18 373.38 137.05 374.61 137.40 375.48C137.75 376.36 137.84 376.99 137.67 377.59C137.49 378.19 136.96 378.89 136.35 379.06C135.74 379.24 134.77 379.02 133.98 378.64C133.19 378.26 132.36 377.54 131.61 376.80C130.87 376.05 130.02 375.09 129.51 374.17C129.00 373.25 128.69 372.24 128.56 371.27C128.43 370.31 128.56 369.21 128.72 368.38C128.88 367.54 129.16 366.75 129.51 366.27C129.86 365.79 130.34 365.44 130.82 365.48Z" fill="none" stroke="#fff" stroke-width="0.45" opacity="0.55"/><path d="M131.78 368.52C132.09 368.55 132.48 368.81 132.79 369.20C133.10 369.60 133.30 370.27 133.64 370.89C133.98 371.51 134.43 372.25 134.82 372.92C135.22 373.60 135.78 374.39 136.01 374.95C136.23 375.52 136.29 375.92 136.18 376.31C136.07 376.69 135.73 377.14 135.33 377.25C134.94 377.37 134.32 377.23 133.81 376.98C133.30 376.74 132.77 376.28 132.29 375.80C131.81 375.32 131.26 374.70 130.93 374.11C130.61 373.52 130.41 372.87 130.32 372.25C130.24 371.63 130.32 370.92 130.43 370.38C130.53 369.85 130.71 369.34 130.93 369.03C131.16 368.72 131.47 368.50 131.78 368.52Z" fill="none" stroke="#fff" stroke-width="0.45" opacity="0.6"/><ellipse cx="133.5" cy="374" rx="0.9" ry="1.2" fill="#fff" opacity="0.85"/>
<text x="96.0" y="355" font-size="8.9" text-anchor="start" stroke="#000" stroke-width="0.55">32%</text>
<text x="157.5" y="355" font-size="8.9" text-anchor="end" stroke="#000" stroke-width="0.55">47%</text>
<text x="96.0" y="408.8" font-size="8.9" text-anchor="start" stroke="#000" stroke-width="0.55">1%</text>
<text x="157.5" y="408.8" font-size="8.9" text-anchor="end" stroke="#000" stroke-width="0.55">20%</text>
<text x="164.6" y="313.7" font-size="11.2" text-anchor="start" textLength="19.6" lengthAdjust="spacingAndGlyphs" stroke="#000" stroke-width="0.38">IL-2</text>
<text x="164.6" y="380" font-size="11.2" text-anchor="start" textLength="39.8" lengthAdjust="spacingAndGlyphs" stroke="#000" stroke-width="0.38">IL-7+15</text>
<text x="16.2" y="383.2" font-size="11.5" text-anchor="middle" textLength="46.5" lengthAdjust="spacingAndGlyphs" transform="rotate(-90 16.2 383.2)" stroke="#000" stroke-width="0.45">CD45RA</text>
<line x1="11.3" y1="354" x2="11.3" y2="310.8" stroke="#000" stroke-width="1.5" />
<polygon points="11.30,305.30 14.30,313.00 11.30,311.00 8.30,313.00" fill="#000"/>
<text x="19.8" y="428.2" font-size="11.5" text-anchor="start" textLength="49" lengthAdjust="spacingAndGlyphs" stroke="#000" stroke-width="0.45">CD45RO</text>
<line x1="71" y1="422.5" x2="116.3" y2="422.5" stroke="#000" stroke-width="1.6" />
<polygon points="121.80,422.50 114.10,425.60 116.10,422.50 114.10,419.40" fill="#000"/>
<text x="236.6" y="268.2" font-size="17.3" text-anchor="start" font-weight="bold" stroke="#000" stroke-width="0.5">F</text>
<text x="312.3" y="263.7" font-size="10.5" text-anchor="middle" textLength="23" lengthAdjust="spacingAndGlyphs" stroke="#000" stroke-width="0.38">CD4</text>
<line x1="278.45000000000005" y1="336.6" x2="278.45000000000005" y2="338.788" stroke="#000" stroke-width="1.1" />
<line x1="275.45000000000005" y1="336.6" x2="281.45000000000005" y2="336.6" stroke="#000" stroke-width="1.1" />
<rect x="273.6" y="338.788" width="9.7" height="5.01" fill="#000" stroke="#000" stroke-width="1.3"/>
<line x1="292.6" y1="337.6" x2="292.6" y2="339.146" stroke="#000" stroke-width="1.1" />
<line x1="289.6" y1="337.6" x2="295.6" y2="337.6" stroke="#000" stroke-width="1.1" />
<rect x="287.4" y="339.146" width="10.4" height="4.65" fill="#fff" stroke="#000" stroke-width="1.3"/>
<line x1="314.1" y1="335.2" x2="314.1" y2="335.92400000000004" stroke="#000" stroke-width="1.1" />
<line x1="311.1" y1="335.2" x2="317.1" y2="335.2" stroke="#000" stroke-width="1.1" />
<rect x="308.8" y="335.92400000000004" width="10.6" height="7.88" fill="#000" stroke="#000" stroke-width="1.3"/>
<line x1="328.8" y1="318.3" x2="328.8" y2="325.90000000000003" stroke="#000" stroke-width="1.1" />
<line x1="325.8" y1="318.3" x2="331.8" y2="318.3" stroke="#000" stroke-width="1.1" />
<rect x="323.6" y="325.90000000000003" width="10.4" height="17.9" fill="#fff" stroke="#000" stroke-width="1.3"/>
<line x1="350.9" y1="282.3" x2="350.9" y2="285.446" stroke="#000" stroke-width="1.1" />
<line x1="347.9" y1="282.3" x2="353.9" y2="282.3" stroke="#000" stroke-width="1.1" />
<rect x="345.8" y="285.446" width="10.2" height="58.35" fill="#000" stroke="#000" stroke-width="1.3"/>
<line x1="365.0" y1="292" x2="365.0" y2="298.334" stroke="#000" stroke-width="1.1" />
<line x1="362.0" y1="292" x2="368.0" y2="292" stroke="#000" stroke-width="1.1" />
<rect x="359.7" y="298.334" width="10.6" height="45.47" fill="#fff" stroke="#000" stroke-width="1.3"/>
<line x1="267.8" y1="270.8" x2="267.8" y2="344.5" stroke="#000" stroke-width="1.4" />
<line x1="264.2" y1="343.8" x2="374.8" y2="343.8" stroke="#000" stroke-width="1.4" />
<line x1="264.2" y1="343.8" x2="267.8" y2="343.8" stroke="#000" stroke-width="1.4" />
<text x="263.7" y="346.2" font-size="8.8" text-anchor="end" font-weight="bold" >0</text>
<line x1="264.2" y1="329.48" x2="267.8" y2="329.48" stroke="#000" stroke-width="1.4" />
<text x="263.7" y="331.88" font-size="8.8" text-anchor="end" font-weight="bold" >20</text>
<line x1="264.2" y1="315.16" x2="267.8" y2="315.16" stroke="#000" stroke-width="1.4" />
<text x="263.7" y="317.56" font-size="8.8" text-anchor="end" font-weight="bold" >40</text>
<line x1="264.2" y1="300.84000000000003" x2="267.8" y2="300.84000000000003" stroke="#000" stroke-width="1.4" />
<text x="263.7" y="303.24" font-size="8.8" text-anchor="end" font-weight="bold" >60</text>
<line x1="264.2" y1="286.52" x2="267.8" y2="286.52" stroke="#000" stroke-width="1.4" />
<text x="263.7" y="288.91999999999996" font-size="8.8" text-anchor="end" font-weight="bold" >80</text>
<line x1="264.2" y1="272.20000000000005" x2="267.8" y2="272.20000000000005" stroke="#000" stroke-width="1.4" />
<text x="263.7" y="274.6" font-size="8.8" text-anchor="end" font-weight="bold" textLength="13.6" lengthAdjust="spacingAndGlyphs" >100</text>
<line x1="285.5" y1="343.8" x2="285.5" y2="347.3" stroke="#000" stroke-width="1.3" />
<line x1="321.5" y1="343.8" x2="321.5" y2="347.3" stroke="#000" stroke-width="1.3" />
<line x1="358" y1="343.8" x2="358" y2="347.3" stroke="#000" stroke-width="1.3" />
<text x="306.4" y="313.9" font-size="8.7" text-anchor="start" font-weight="bold" textLength="30" lengthAdjust="spacingAndGlyphs" >P &lt; 0.05</text>
<text x="342.7" y="275.5" font-size="8.7" text-anchor="start" font-weight="bold" textLength="29.5" lengthAdjust="spacingAndGlyphs" >P &lt; 0.05</text>
<rect x="382.6" y="274" width="9.2" height="8.5" fill="#000" stroke="#000" stroke-width="1.2"/>
<text x="394.5" y="282" font-size="9.4" text-anchor="start" font-weight="bold" textLength="14.8" lengthAdjust="spacingAndGlyphs" >IL-2</text>
<rect x="382.6" y="287.5" width="9.2" height="8.5" fill="#fff" stroke="#000" stroke-width="1.2"/>
<text x="394.5" y="294.8" font-size="9.4" text-anchor="start" font-weight="bold" textLength="32.5" lengthAdjust="spacingAndGlyphs" >IL-7+15</text>
<text x="245.8" y="305.5" font-size="10.6" text-anchor="middle" textLength="58.5" lengthAdjust="spacingAndGlyphs" transform="rotate(-90 245.8 305.5)" stroke="#000" stroke-width="0.38">Percentage</text>
<text x="290.5" y="356.3" font-size="11.2" text-anchor="end" textLength="43.5" lengthAdjust="spacingAndGlyphs" transform="rotate(-45 290.5 356.3)" stroke="#000" stroke-width="0.45">RA<tspan dy="-4.03" font-size="6.94">+</tspan><tspan dy="4.03">R</tspan>O<tspan dy="-4.03" font-size="6.94">-</tspan></text>
<text x="323.5" y="356" font-size="11.2" text-anchor="end" textLength="43.5" lengthAdjust="spacingAndGlyphs" transform="rotate(-45 323.5 356)" stroke="#000" stroke-width="0.45">RA<tspan dy="-4.03" font-size="6.94">+</tspan><tspan dy="4.03">R</tspan>O<tspan dy="-4.03" font-size="6.94">+</tspan></text>
<text x="360" y="356" font-size="11.2" text-anchor="end" textLength="43.5" lengthAdjust="spacingAndGlyphs" transform="rotate(-45 360 356)" stroke="#000" stroke-width="0.45">RA<tspan dy="-4.03" font-size="6.94">+</tspan><tspan dy="4.03">R</tspan>O<tspan dy="-4.03" font-size="6.94">-</tspan></text>
<text x="311.6" y="407.4" font-size="10.5" text-anchor="middle" textLength="23.5" lengthAdjust="spacingAndGlyphs" stroke="#000" stroke-width="0.38">CD8</text>
<line x1="277.3" y1="441" x2="277.3" y2="448.3315" stroke="#000" stroke-width="1.1" />
<line x1="274.3" y1="441" x2="280.3" y2="441" stroke="#000" stroke-width="1.1" />
<rect x="272" y="448.3315" width="10.6" height="44.67" fill="#000" stroke="#000" stroke-width="1.3"/>
<line x1="291.5" y1="440" x2="291.5" y2="444.694" stroke="#000" stroke-width="1.1" />
<line x1="288.5" y1="440" x2="294.5" y2="440" stroke="#000" stroke-width="1.1" />
<rect x="286.4" y="444.694" width="10.2" height="48.31" fill="#fff" stroke="#000" stroke-width="1.3"/>
<line x1="313.3" y1="450.4" x2="313.3" y2="453.2785" stroke="#000" stroke-width="1.1" />
<line x1="310.3" y1="450.4" x2="316.3" y2="450.4" stroke="#000" stroke-width="1.1" />
<rect x="308" y="453.2785" width="10.6" height="39.72" fill="#000" stroke="#000" stroke-width="1.3"/>
<line x1="328.0" y1="425.8" x2="328.0" y2="431.89" stroke="#000" stroke-width="1.1" />
<line x1="325.0" y1="425.8" x2="331.0" y2="425.8" stroke="#000" stroke-width="1.1" />
<rect x="322.7" y="431.89" width="10.6" height="61.11" fill="#fff" stroke="#000" stroke-width="1.3"/>
<line x1="349.6" y1="424.8" x2="349.6" y2="436.255" stroke="#000" stroke-width="1.1" />
<line x1="346.6" y1="424.8" x2="352.6" y2="424.8" stroke="#000" stroke-width="1.1" />
<rect x="344.3" y="436.255" width="10.6" height="56.75" fill="#000" stroke="#000" stroke-width="1.3"/>
<line x1="364.1" y1="456" x2="364.1" y2="461.572" stroke="#000" stroke-width="1.1" />
<line x1="361.1" y1="456" x2="367.1" y2="456" stroke="#000" stroke-width="1.1" />
<rect x="358.8" y="461.572" width="10.6" height="31.43" fill="#fff" stroke="#000" stroke-width="1.3"/>
<line x1="266.8" y1="419.6" x2="266.8" y2="493.7" stroke="#000" stroke-width="1.4" />
<line x1="263.8" y1="493" x2="374.8" y2="493" stroke="#000" stroke-width="1.4" />
<line x1="263.8" y1="493.0" x2="266.8" y2="493.0" stroke="#000" stroke-width="1.4" />
<text x="263.6" y="495.4" font-size="8.8" text-anchor="end" font-weight="bold" >0</text>
<line x1="263.8" y1="478.45" x2="266.8" y2="478.45" stroke="#000" stroke-width="1.4" />
<text x="263.6" y="480.84999999999997" font-size="8.8" text-anchor="end" font-weight="bold" >10</text>
<line x1="263.8" y1="463.9" x2="266.8" y2="463.9" stroke="#000" stroke-width="1.4" />
<text x="263.6" y="466.29999999999995" font-size="8.8" text-anchor="end" font-weight="bold" >20</text>
<line x1="263.8" y1="449.35" x2="266.8" y2="449.35" stroke="#000" stroke-width="1.4" />
<text x="263.6" y="451.75" font-size="8.8" text-anchor="end" font-weight="bold" >30</text>
<line x1="263.8" y1="434.8" x2="266.8" y2="434.8" stroke="#000" stroke-width="1.4" />
<text x="263.6" y="437.2" font-size="8.8" text-anchor="end" font-weight="bold" >40</text>
<line x1="263.8" y1="420.25" x2="266.8" y2="420.25" stroke="#000" stroke-width="1.4" />
<text x="263.6" y="422.65" font-size="8.8" text-anchor="end" font-weight="bold" >50</text>
<line x1="284.5" y1="493" x2="284.5" y2="496.5" stroke="#000" stroke-width="1.3" />
<line x1="320.7" y1="493" x2="320.7" y2="496.5" stroke="#000" stroke-width="1.3" />
<line x1="357" y1="493" x2="357" y2="496.5" stroke="#000" stroke-width="1.3" />
<text x="306.4" y="420.6" font-size="8.7" text-anchor="start" font-weight="bold" textLength="30" lengthAdjust="spacingAndGlyphs" >P &lt; 0.05</text>
<text x="344.2" y="422.3" font-size="8.7" text-anchor="start" font-weight="bold" textLength="29.5" lengthAdjust="spacingAndGlyphs" >P &lt; 0.05</text>
<rect x="391.2" y="425.4" width="9.3" height="8.4" fill="#000" stroke="#000" stroke-width="1.2"/>
<text x="404.5" y="432.6" font-size="9.2" text-anchor="start" font-weight="bold" textLength="14.5" lengthAdjust="spacingAndGlyphs" >IL-2</text>
<rect x="391.2" y="438.2" width="9.3" height="8.5" fill="#fff" stroke="#000" stroke-width="1.2"/>
<text x="404.5" y="445.7" font-size="9.2" text-anchor="start" font-weight="bold" textLength="29.5" lengthAdjust="spacingAndGlyphs" >IL-7+15</text>
<text x="248.8" y="454.2" font-size="10.6" text-anchor="middle" textLength="59" lengthAdjust="spacingAndGlyphs" transform="rotate(-90 248.8 454.2)" stroke="#000" stroke-width="0.38">Percentage</text>
<text x="287.5" y="504.6" font-size="11.2" text-anchor="end" textLength="43.5" lengthAdjust="spacingAndGlyphs" transform="rotate(-45 287.5 504.6)" stroke="#000" stroke-width="0.45">RA<tspan dy="-4.03" font-size="6.94">+</tspan><tspan dy="4.03">R</tspan>O<tspan dy="-4.03" font-size="6.94">-</tspan></text>
<text x="323.6" y="504.4" font-size="11.2" text-anchor="end" textLength="43.5" lengthAdjust="spacingAndGlyphs" transform="rotate(-45 323.6 504.4)" stroke="#000" stroke-width="0.45">RA<tspan dy="-4.03" font-size="6.94">+</tspan><tspan dy="4.03">R</tspan>O<tspan dy="-4.03" font-size="6.94">+</tspan></text>
<text x="360" y="504.6" font-size="11.2" text-anchor="end" textLength="42" lengthAdjust="spacingAndGlyphs" transform="rotate(-45 360 504.6)" stroke="#000" stroke-width="0.45">RA<tspan dy="-4.03" font-size="6.94">-</tspan><tspan dy="4.03">R</tspan>O<tspan dy="-4.03" font-size="6.94">+</tspan></text>
<text x="0" y="457.8" font-size="17.7" text-anchor="start" font-weight="bold" stroke="#000" stroke-width="0.5">G</text>
<rect x="64.2" y="444.5" width="8.0" height="8.2" fill="#fff" stroke="#000" stroke-width="1.2"/>
<text x="75.4" y="452.1" font-size="9.2" text-anchor="start" font-weight="bold" textLength="14.5" lengthAdjust="spacingAndGlyphs" >IL-2</text>
<rect x="101.6" y="444.5" width="8.4" height="8.2" fill="#000" stroke="#000" stroke-width="1.2"/>
<text x="113.2" y="452.1" font-size="9.2" text-anchor="start" font-weight="bold" textLength="31" lengthAdjust="spacingAndGlyphs" >IL-7+15</text>
<line x1="68.5" y1="492.6" x2="68.5" y2="498.78749999999997" stroke="#000" stroke-width="1.1" />
<line x1="64.2" y1="492.6" x2="72.8" y2="492.6" stroke="#000" stroke-width="1.1" />
<rect x="60" y="498.78749999999997" width="17" height="50.51" fill="#fff" stroke="#000" stroke-width="1.3"/>
<line x1="89.3" y1="491.4" x2="89.3" y2="494.85874999999993" stroke="#000" stroke-width="1.1" />
<line x1="85.0" y1="491.4" x2="93.6" y2="491.4" stroke="#000" stroke-width="1.1" />
<rect x="80.8" y="494.85874999999993" width="17.0" height="54.44" fill="#000" stroke="#000" stroke-width="1.3"/>
<line x1="123.0" y1="489.8" x2="123.0" y2="491.26674999999994" stroke="#000" stroke-width="1.1" />
<line x1="118.7" y1="489.8" x2="127.3" y2="489.8" stroke="#000" stroke-width="1.1" />
<rect x="114.6" y="491.26674999999994" width="16.8" height="58.03" fill="#fff" stroke="#000" stroke-width="1.3"/>
<line x1="143.5" y1="476.6" x2="143.5" y2="487.56249999999994" stroke="#000" stroke-width="1.1" />
<line x1="139.2" y1="476.6" x2="147.8" y2="476.6" stroke="#000" stroke-width="1.1" />
<rect x="134.8" y="487.56249999999994" width="17.4" height="61.74" fill="#000" stroke="#000" stroke-width="1.3"/>
<line x1="51.6" y1="458.7" x2="51.6" y2="550.0" stroke="#000" stroke-width="1.4" />
<line x1="48.6" y1="549.3" x2="160" y2="549.3" stroke="#000" stroke-width="1.4" />
<line x1="48.6" y1="549.3" x2="51.6" y2="549.3" stroke="#000" stroke-width="1.4" />
<text x="49.2" y="551.9" font-size="9.3" text-anchor="end" font-weight="bold" >0</text>
<line x1="48.6" y1="526.8499999999999" x2="51.6" y2="526.8499999999999" stroke="#000" stroke-width="1.4" />
<text x="49.2" y="529.4499999999999" font-size="9.3" text-anchor="end" font-weight="bold" >20</text>
<line x1="48.6" y1="504.4" x2="51.6" y2="504.4" stroke="#000" stroke-width="1.4" />
<text x="49.2" y="507.0" font-size="9.3" text-anchor="end" font-weight="bold" >40</text>
<line x1="48.6" y1="481.94999999999993" x2="51.6" y2="481.94999999999993" stroke="#000" stroke-width="1.4" />
<text x="49.2" y="484.54999999999995" font-size="9.3" text-anchor="end" font-weight="bold" >60</text>
<line x1="48.6" y1="459.49999999999994" x2="51.6" y2="459.49999999999994" stroke="#000" stroke-width="1.4" />
<text x="49.2" y="462.09999999999997" font-size="9.3" text-anchor="end" font-weight="bold" >80</text>
<text x="78.8" y="561.4" font-size="11.3" text-anchor="middle" textLength="23.5" lengthAdjust="spacingAndGlyphs" stroke="#000" stroke-width="0.35">CD4</text>
<text x="132.9" y="561.4" font-size="11.3" text-anchor="middle" textLength="23.5" lengthAdjust="spacingAndGlyphs" stroke="#000" stroke-width="0.35">CD8</text>
<text x="17.5" y="502.8" font-size="10.6" text-anchor="middle" textLength="71" lengthAdjust="spacingAndGlyphs" transform="rotate(-90 17.5 502.8)" stroke="#000" stroke-width="0.38">% CAR<tspan dy="-3.82" font-size="6.57">+</tspan><tspan dy="3.82"> </tspan>from</text>
<text x="32.9" y="502" font-size="10.6" text-anchor="middle" textLength="79" lengthAdjust="spacingAndGlyphs" transform="rotate(-90 32.9 502)" stroke="#000" stroke-width="0.38">CD45RO<tspan dy="-3.82" font-size="6.57">+</tspan><tspan dy="3.82"> </tspan>cells</text>
</svg>
</body></html>
